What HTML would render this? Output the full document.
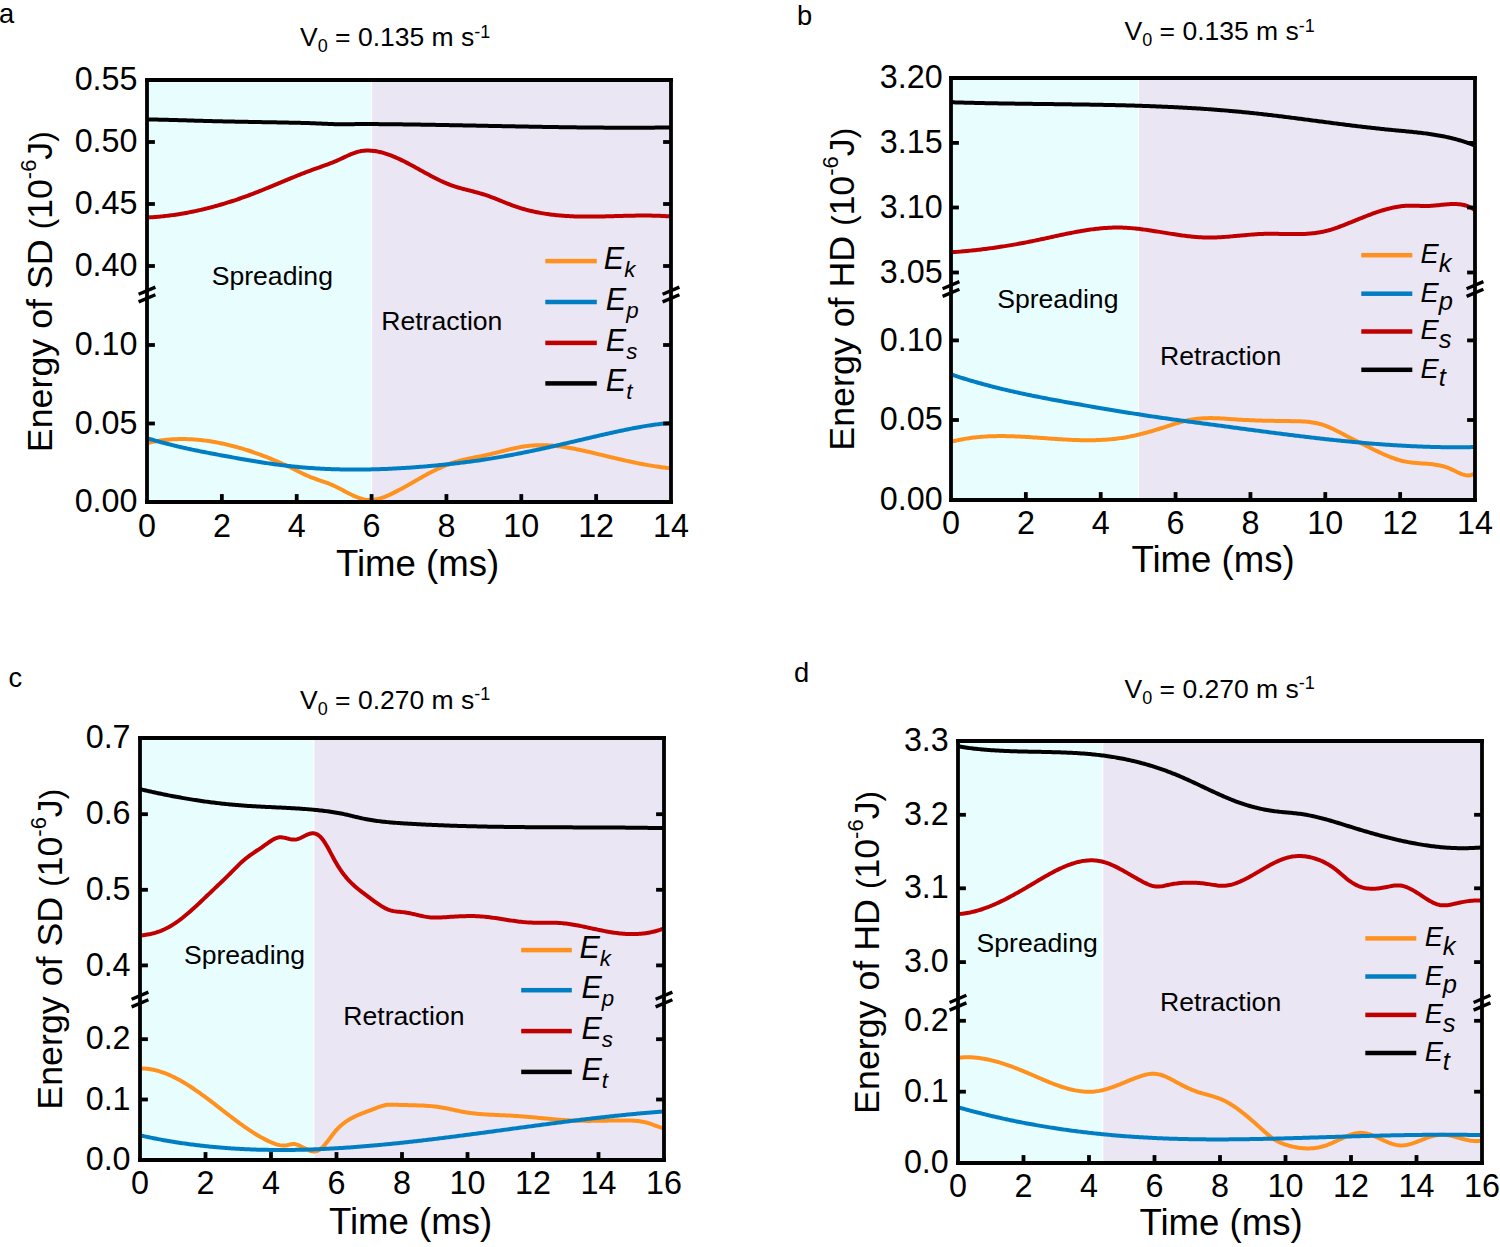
<!DOCTYPE html>
<html><head><meta charset="utf-8"><title>Energy plots</title>
<style>html,body{margin:0;padding:0;background:#fff;}svg{display:block;}</style>
</head><body>
<svg width="1500" height="1247" viewBox="0 0 1500 1247" font-family="'Liberation Sans', sans-serif">
<rect width="1500" height="1247" fill="#fff"/>
<rect x="147.00" y="80.00" width="224.60" height="422.00" fill="#E8FEFE"/>
<rect x="371.60" y="80.00" width="299.40" height="422.00" fill="#EAE6F4"/>
<rect x="371.10" y="80.00" width="1" height="422.00" fill="#fff"/>
<clipPath id="clipa"><rect x="147.00" y="78.00" width="524.00" height="424.00"/></clipPath>
<g clip-path="url(#clipa)" fill="none" stroke-width="4.0" stroke-linejoin="round" stroke-linecap="butt">
<path d="M147.00,443.12L148.50,442.77L150.00,442.43L151.50,442.11L153.00,441.81L154.50,441.53L156.00,441.26L157.50,441.01L159.00,440.77L160.50,440.55L162.00,440.35L163.50,440.16L165.00,439.98L166.50,439.83L168.00,439.68L169.50,439.55L171.00,439.44L172.50,439.34L174.00,439.26L175.50,439.19L177.00,439.14L178.50,439.09L180.00,439.07L181.50,439.06L183.00,439.06L184.50,439.07L186.00,439.10L187.50,439.14L189.00,439.20L190.50,439.27L192.00,439.35L193.50,439.44L195.00,439.55L196.50,439.67L198.00,439.80L199.50,439.94L201.00,440.10L202.50,440.27L204.00,440.45L205.50,440.64L207.00,440.85L208.50,441.06L210.00,441.29L211.50,441.53L213.00,441.77L214.50,442.03L216.00,442.30L217.50,442.59L219.00,442.88L220.50,443.18L222.00,443.49L223.50,443.82L225.00,444.15L226.50,444.49L228.00,444.84L229.50,445.21L231.00,445.58L232.50,445.96L234.00,446.35L235.50,446.75L237.00,447.16L238.50,447.58L240.00,448.00L241.50,448.44L243.00,448.89L244.50,449.34L246.00,449.81L247.50,450.28L249.00,450.77L250.50,451.26L252.00,451.76L253.50,452.27L255.00,452.79L256.50,453.31L258.00,453.85L259.50,454.39L261.00,454.95L262.50,455.51L264.00,456.08L265.50,456.66L267.00,457.24L268.50,457.84L270.00,458.44L271.50,459.06L273.00,459.68L274.50,460.31L276.00,460.94L277.50,461.59L279.00,462.24L280.50,462.90L282.00,463.57L283.50,464.25L285.00,464.94L286.50,465.63L288.00,466.33L289.50,467.04L291.00,467.75L292.50,468.48L294.00,469.21L295.50,469.95L297.00,470.70L298.50,471.45L300.00,472.20L301.50,472.94L303.00,473.68L304.50,474.40L306.00,475.10L307.50,475.77L309.00,476.42L310.50,477.04L312.00,477.62L313.50,478.18L315.00,478.73L316.50,479.25L318.00,479.77L319.50,480.28L321.00,480.79L322.50,481.30L324.00,481.82L325.50,482.35L327.00,482.90L328.50,483.48L330.00,484.07L331.50,484.69L333.00,485.34L334.50,486.02L336.00,486.74L337.50,487.48L339.00,488.24L340.50,489.03L342.00,489.82L343.50,490.63L345.00,491.43L346.50,492.23L348.00,493.02L349.50,493.79L351.00,494.53L352.50,495.25L354.00,495.94L355.50,496.58L357.00,497.19L358.50,497.74L360.00,498.25L361.50,498.70L363.00,499.09L364.50,499.41L366.00,499.67L367.50,499.86L369.00,499.96L370.50,499.99L372.00,499.94L373.50,499.80L375.00,499.60L376.50,499.33L378.00,499.00L379.50,498.60L381.00,498.16L382.50,497.66L384.00,497.12L385.50,496.53L387.00,495.91L388.50,495.26L390.00,494.58L391.50,493.87L393.00,493.15L394.50,492.41L396.00,491.65L397.50,490.87L399.00,490.08L400.50,489.28L402.00,488.47L403.50,487.64L405.00,486.81L406.50,485.97L408.00,485.12L409.50,484.27L411.00,483.41L412.50,482.55L414.00,481.69L415.50,480.83L417.00,479.97L418.50,479.12L420.00,478.26L421.50,477.42L423.00,476.57L424.50,475.74L426.00,474.92L427.50,474.10L429.00,473.30L430.50,472.51L432.00,471.73L433.50,470.97L435.00,470.22L436.50,469.49L438.00,468.77L439.50,468.07L441.00,467.39L442.50,466.73L444.00,466.09L445.50,465.47L447.00,464.87L448.50,464.29L450.00,463.74L451.50,463.21L453.00,462.70L454.50,462.22L456.00,461.77L457.50,461.34L459.00,460.92L460.50,460.53L462.00,460.15L463.50,459.79L465.00,459.45L466.50,459.11L468.00,458.79L469.50,458.47L471.00,458.17L472.50,457.86L474.00,457.57L475.50,457.27L477.00,456.98L478.50,456.68L480.00,456.39L481.50,456.09L483.00,455.78L484.50,455.46L486.00,455.14L487.50,454.81L489.00,454.46L490.50,454.11L492.00,453.75L493.50,453.39L495.00,453.02L496.50,452.65L498.00,452.27L499.50,451.89L501.00,451.52L502.50,451.14L504.00,450.76L505.50,450.39L507.00,450.02L508.50,449.66L510.00,449.30L511.50,448.96L513.00,448.61L514.50,448.28L516.00,447.96L517.50,447.66L519.00,447.36L520.50,447.08L522.00,446.82L523.50,446.57L525.00,446.34L526.50,446.13L528.00,445.94L529.50,445.77L531.00,445.62L532.50,445.49L534.00,445.39L535.50,445.30L537.00,445.24L538.50,445.19L540.00,445.17L541.50,445.16L543.00,445.17L544.50,445.20L546.00,445.25L547.50,445.31L549.00,445.39L550.50,445.49L552.00,445.60L553.50,445.73L555.00,445.87L556.50,446.02L558.00,446.19L559.50,446.37L561.00,446.57L562.50,446.78L564.00,447.00L565.50,447.23L567.00,447.47L568.50,447.72L570.00,447.98L571.50,448.25L573.00,448.53L574.50,448.82L576.00,449.11L577.50,449.42L579.00,449.73L580.50,450.05L582.00,450.37L583.50,450.70L585.00,451.03L586.50,451.37L588.00,451.72L589.50,452.07L591.00,452.42L592.50,452.77L594.00,453.13L595.50,453.48L597.00,453.84L598.50,454.21L600.00,454.57L601.50,454.93L603.00,455.29L604.50,455.65L606.00,456.01L607.50,456.37L609.00,456.73L610.50,457.09L612.00,457.45L613.50,457.81L615.00,458.16L616.50,458.51L618.00,458.86L619.50,459.21L621.00,459.56L622.50,459.90L624.00,460.24L625.50,460.58L627.00,460.91L628.50,461.25L630.00,461.57L631.50,461.90L633.00,462.21L634.50,462.53L636.00,462.84L637.50,463.15L639.00,463.45L640.50,463.74L642.00,464.03L643.50,464.32L645.00,464.60L646.50,464.87L648.00,465.13L649.50,465.40L651.00,465.65L652.50,465.90L654.00,466.14L655.50,466.37L657.00,466.59L658.50,466.81L660.00,467.02L661.50,467.22L663.00,467.42L664.50,467.60L666.00,467.78L667.50,467.94L669.00,468.10L670.50,468.25L671.00,468.30" stroke="#FF911E"/>
<path d="M147.00,438.14L148.50,438.60L150.00,439.06L151.50,439.51L153.00,439.95L154.50,440.39L156.00,440.82L157.50,441.24L159.00,441.66L160.50,442.08L162.00,442.48L163.50,442.88L165.00,443.28L166.50,443.67L168.00,444.05L169.50,444.43L171.00,444.81L172.50,445.18L174.00,445.54L175.50,445.90L177.00,446.26L178.50,446.61L180.00,446.96L181.50,447.30L183.00,447.64L184.50,447.97L186.00,448.30L187.50,448.63L189.00,448.95L190.50,449.27L192.00,449.59L193.50,449.90L195.00,450.22L196.50,450.52L198.00,450.83L199.50,451.13L201.00,451.43L202.50,451.73L204.00,452.02L205.50,452.32L207.00,452.61L208.50,452.90L210.00,453.18L211.50,453.47L213.00,453.75L214.50,454.04L216.00,454.32L217.50,454.60L219.00,454.88L220.50,455.16L222.00,455.43L223.50,455.71L225.00,455.99L226.50,456.26L228.00,456.54L229.50,456.81L231.00,457.09L232.50,457.36L234.00,457.63L235.50,457.90L237.00,458.17L238.50,458.44L240.00,458.70L241.50,458.97L243.00,459.23L244.50,459.49L246.00,459.75L247.50,460.01L249.00,460.26L250.50,460.52L252.00,460.77L253.50,461.02L255.00,461.26L256.50,461.51L258.00,461.75L259.50,461.99L261.00,462.23L262.50,462.46L264.00,462.69L265.50,462.92L267.00,463.14L268.50,463.36L270.00,463.58L271.50,463.80L273.00,464.01L274.50,464.22L276.00,464.42L277.50,464.62L279.00,464.82L280.50,465.01L282.00,465.20L283.50,465.39L285.00,465.57L286.50,465.75L288.00,465.92L289.50,466.09L291.00,466.25L292.50,466.41L294.00,466.57L295.50,466.72L297.00,466.86L298.50,467.01L300.00,467.15L301.50,467.28L303.00,467.41L304.50,467.54L306.00,467.66L307.50,467.78L309.00,467.89L310.50,468.00L312.00,468.11L313.50,468.21L315.00,468.31L316.50,468.40L318.00,468.49L319.50,468.58L321.00,468.66L322.50,468.74L324.00,468.82L325.50,468.89L327.00,468.95L328.50,469.02L330.00,469.08L331.50,469.14L333.00,469.19L334.50,469.24L336.00,469.28L337.50,469.33L339.00,469.36L340.50,469.40L342.00,469.43L343.50,469.46L345.00,469.48L346.50,469.51L348.00,469.52L349.50,469.54L351.00,469.55L352.50,469.56L354.00,469.56L355.50,469.56L357.00,469.56L358.50,469.56L360.00,469.55L361.50,469.54L363.00,469.52L364.50,469.50L366.00,469.48L367.50,469.46L369.00,469.43L370.50,469.40L372.00,469.37L373.50,469.33L375.00,469.29L376.50,469.25L378.00,469.21L379.50,469.16L381.00,469.11L382.50,469.06L384.00,469.00L385.50,468.94L387.00,468.88L388.50,468.81L390.00,468.75L391.50,468.68L393.00,468.60L394.50,468.53L396.00,468.45L397.50,468.37L399.00,468.29L400.50,468.20L402.00,468.11L403.50,468.02L405.00,467.93L406.50,467.83L408.00,467.74L409.50,467.64L411.00,467.53L412.50,467.43L414.00,467.32L415.50,467.21L417.00,467.10L418.50,466.98L420.00,466.86L421.50,466.74L423.00,466.62L424.50,466.49L426.00,466.37L427.50,466.24L429.00,466.10L430.50,465.97L432.00,465.83L433.50,465.69L435.00,465.55L436.50,465.41L438.00,465.26L439.50,465.11L441.00,464.96L442.50,464.81L444.00,464.65L445.50,464.50L447.00,464.34L448.50,464.17L450.00,464.01L451.50,463.84L453.00,463.67L454.50,463.50L456.00,463.33L457.50,463.15L459.00,462.98L460.50,462.80L462.00,462.61L463.50,462.43L465.00,462.24L466.50,462.05L468.00,461.86L469.50,461.67L471.00,461.47L472.50,461.27L474.00,461.07L475.50,460.86L477.00,460.66L478.50,460.44L480.00,460.23L481.50,460.01L483.00,459.79L484.50,459.57L486.00,459.34L487.50,459.11L489.00,458.87L490.50,458.63L492.00,458.39L493.50,458.15L495.00,457.90L496.50,457.65L498.00,457.40L499.50,457.14L501.00,456.88L502.50,456.61L504.00,456.35L505.50,456.08L507.00,455.81L508.50,455.53L510.00,455.25L511.50,454.97L513.00,454.69L514.50,454.40L516.00,454.12L517.50,453.83L519.00,453.53L520.50,453.24L522.00,452.94L523.50,452.64L525.00,452.33L526.50,452.03L528.00,451.72L529.50,451.41L531.00,451.10L532.50,450.79L534.00,450.47L535.50,450.15L537.00,449.83L538.50,449.51L540.00,449.19L541.50,448.86L543.00,448.54L544.50,448.21L546.00,447.88L547.50,447.55L549.00,447.21L550.50,446.88L552.00,446.54L553.50,446.20L555.00,445.86L556.50,445.52L558.00,445.18L559.50,444.84L561.00,444.49L562.50,444.15L564.00,443.80L565.50,443.45L567.00,443.11L568.50,442.76L570.00,442.41L571.50,442.06L573.00,441.70L574.50,441.35L576.00,441.00L577.50,440.65L579.00,440.30L580.50,439.94L582.00,439.59L583.50,439.24L585.00,438.89L586.50,438.53L588.00,438.18L589.50,437.83L591.00,437.48L592.50,437.13L594.00,436.78L595.50,436.43L597.00,436.09L598.50,435.74L600.00,435.40L601.50,435.05L603.00,434.71L604.50,434.37L606.00,434.03L607.50,433.69L609.00,433.36L610.50,433.03L612.00,432.69L613.50,432.36L615.00,432.04L616.50,431.71L618.00,431.39L619.50,431.07L621.00,430.75L622.50,430.44L624.00,430.12L625.50,429.81L627.00,429.51L628.50,429.20L630.00,428.90L631.50,428.61L633.00,428.31L634.50,428.02L636.00,427.74L637.50,427.46L639.00,427.18L640.50,426.91L642.00,426.64L643.50,426.38L645.00,426.13L646.50,425.88L648.00,425.64L649.50,425.41L651.00,425.18L652.50,424.97L654.00,424.76L655.50,424.56L657.00,424.37L658.50,424.19L660.00,424.01L661.50,423.85L663.00,423.70L664.50,423.56L666.00,423.43L667.50,423.31L669.00,423.20L670.50,423.11L671.00,423.08" stroke="#007DC3"/>
<path d="M147.00,217.52L148.50,217.44L150.00,217.35L151.50,217.26L153.00,217.16L154.50,217.05L156.00,216.93L157.50,216.80L159.00,216.67L160.50,216.53L162.00,216.38L163.50,216.22L165.00,216.06L166.50,215.88L168.00,215.70L169.50,215.52L171.00,215.32L172.50,215.12L174.00,214.90L175.50,214.69L177.00,214.46L178.50,214.22L180.00,213.98L181.50,213.73L183.00,213.48L184.50,213.21L186.00,212.94L187.50,212.66L189.00,212.38L190.50,212.08L192.00,211.78L193.50,211.48L195.00,211.16L196.50,210.84L198.00,210.51L199.50,210.17L201.00,209.83L202.50,209.48L204.00,209.12L205.50,208.75L207.00,208.38L208.50,208.00L210.00,207.62L211.50,207.23L213.00,206.83L214.50,206.42L216.00,206.01L217.50,205.59L219.00,205.16L220.50,204.73L222.00,204.29L223.50,203.84L225.00,203.38L226.50,202.92L228.00,202.46L229.50,201.98L231.00,201.50L232.50,201.02L234.00,200.53L235.50,200.03L237.00,199.52L238.50,199.01L240.00,198.49L241.50,197.96L243.00,197.43L244.50,196.90L246.00,196.35L247.50,195.80L249.00,195.25L250.50,194.68L252.00,194.12L253.50,193.54L255.00,192.96L256.50,192.38L258.00,191.79L259.50,191.19L261.00,190.59L262.50,189.99L264.00,189.38L265.50,188.77L267.00,188.16L268.50,187.54L270.00,186.93L271.50,186.31L273.00,185.68L274.50,185.06L276.00,184.44L277.50,183.81L279.00,183.19L280.50,182.56L282.00,181.94L283.50,181.31L285.00,180.69L286.50,180.06L288.00,179.44L289.50,178.82L291.00,178.20L292.50,177.59L294.00,176.98L295.50,176.37L297.00,175.76L298.50,175.16L300.00,174.56L301.50,173.97L303.00,173.38L304.50,172.79L306.00,172.22L307.50,171.64L309.00,171.07L310.50,170.51L312.00,169.96L313.50,169.41L315.00,168.87L316.50,168.33L318.00,167.80L319.50,167.27L321.00,166.74L322.50,166.20L324.00,165.67L325.50,165.12L327.00,164.57L328.50,164.01L330.00,163.45L331.50,162.87L333.00,162.27L334.50,161.66L336.00,161.04L337.50,160.39L339.00,159.73L340.50,159.04L342.00,158.34L343.50,157.63L345.00,156.92L346.50,156.22L348.00,155.52L349.50,154.85L351.00,154.21L352.50,153.60L354.00,153.04L355.50,152.52L357.00,152.06L358.50,151.67L360.00,151.34L361.50,151.07L363.00,150.86L364.50,150.71L366.00,150.61L367.50,150.57L369.00,150.58L370.50,150.63L372.00,150.74L373.50,150.89L375.00,151.09L376.50,151.33L378.00,151.61L379.50,151.93L381.00,152.28L382.50,152.67L384.00,153.10L385.50,153.55L387.00,154.04L388.50,154.56L390.00,155.10L391.50,155.68L393.00,156.28L394.50,156.90L396.00,157.55L397.50,158.21L399.00,158.90L400.50,159.61L402.00,160.34L403.50,161.08L405.00,161.83L406.50,162.60L408.00,163.39L409.50,164.18L411.00,164.98L412.50,165.79L414.00,166.61L415.50,167.43L417.00,168.26L418.50,169.09L420.00,169.92L421.50,170.75L423.00,171.58L424.50,172.41L426.00,173.23L427.50,174.05L429.00,174.86L430.50,175.67L432.00,176.46L433.50,177.25L435.00,178.02L436.50,178.77L438.00,179.52L439.50,180.24L441.00,180.95L442.50,181.64L444.00,182.31L445.50,182.96L447.00,183.59L448.50,184.19L450.00,184.77L451.50,185.32L453.00,185.84L454.50,186.34L456.00,186.82L457.50,187.29L459.00,187.73L460.50,188.16L462.00,188.58L463.50,188.99L465.00,189.38L466.50,189.77L468.00,190.16L469.50,190.55L471.00,190.93L472.50,191.31L474.00,191.70L475.50,192.10L477.00,192.50L478.50,192.91L480.00,193.33L481.50,193.77L483.00,194.22L484.50,194.69L486.00,195.18L487.50,195.69L489.00,196.22L490.50,196.77L492.00,197.33L493.50,197.91L495.00,198.49L496.50,199.09L498.00,199.69L499.50,200.30L501.00,200.91L502.50,201.52L504.00,202.12L505.50,202.73L507.00,203.33L508.50,203.91L510.00,204.49L511.50,205.06L513.00,205.61L514.50,206.14L516.00,206.66L517.50,207.16L519.00,207.64L520.50,208.11L522.00,208.57L523.50,209.00L525.00,209.42L526.50,209.83L528.00,210.22L529.50,210.60L531.00,210.96L532.50,211.31L534.00,211.65L535.50,211.97L537.00,212.28L538.50,212.57L540.00,212.85L541.50,213.12L543.00,213.38L544.50,213.63L546.00,213.86L547.50,214.08L549.00,214.29L550.50,214.49L552.00,214.68L553.50,214.86L555.00,215.03L556.50,215.19L558.00,215.33L559.50,215.47L561.00,215.60L562.50,215.72L564.00,215.83L565.50,215.93L567.00,216.03L568.50,216.11L570.00,216.19L571.50,216.26L573.00,216.33L574.50,216.38L576.00,216.43L577.50,216.47L579.00,216.51L580.50,216.54L582.00,216.56L583.50,216.58L585.00,216.59L586.50,216.60L588.00,216.61L589.50,216.60L591.00,216.60L592.50,216.59L594.00,216.57L595.50,216.56L597.00,216.54L598.50,216.51L600.00,216.48L601.50,216.45L603.00,216.42L604.50,216.39L606.00,216.35L607.50,216.31L609.00,216.27L610.50,216.23L612.00,216.19L613.50,216.15L615.00,216.11L616.50,216.06L618.00,216.02L619.50,215.98L621.00,215.94L622.50,215.90L624.00,215.86L625.50,215.82L627.00,215.78L628.50,215.74L630.00,215.71L631.50,215.68L633.00,215.65L634.50,215.63L636.00,215.60L637.50,215.58L639.00,215.57L640.50,215.56L642.00,215.55L643.50,215.54L645.00,215.55L646.50,215.55L648.00,215.56L649.50,215.58L651.00,215.60L652.50,215.63L654.00,215.66L655.50,215.70L657.00,215.74L658.50,215.80L660.00,215.86L661.50,215.92L663.00,216.00L664.50,216.08L666.00,216.17L667.50,216.27L669.00,216.37L670.50,216.49L671.00,216.53" stroke="#C00000"/>
<path d="M147.00,119.40L148.50,119.43L150.00,119.46L151.50,119.49L153.00,119.52L154.50,119.55L156.00,119.58L157.50,119.61L159.00,119.65L160.50,119.68L162.00,119.72L163.50,119.76L165.00,119.79L166.50,119.83L168.00,119.87L169.50,119.91L171.00,119.95L172.50,119.99L174.00,120.03L175.50,120.07L177.00,120.12L178.50,120.16L180.00,120.20L181.50,120.24L183.00,120.29L184.50,120.33L186.00,120.37L187.50,120.42L189.00,120.46L190.50,120.50L192.00,120.55L193.50,120.59L195.00,120.63L196.50,120.68L198.00,120.72L199.50,120.76L201.00,120.80L202.50,120.85L204.00,120.89L205.50,120.93L207.00,120.97L208.50,121.01L210.00,121.05L211.50,121.09L213.00,121.13L214.50,121.17L216.00,121.20L217.50,121.24L219.00,121.28L220.50,121.31L222.00,121.35L223.50,121.38L225.00,121.42L226.50,121.45L228.00,121.48L229.50,121.51L231.00,121.54L232.50,121.58L234.00,121.61L235.50,121.64L237.00,121.67L238.50,121.69L240.00,121.72L241.50,121.75L243.00,121.78L244.50,121.81L246.00,121.84L247.50,121.86L249.00,121.89L250.50,121.92L252.00,121.95L253.50,121.97L255.00,122.00L256.50,122.03L258.00,122.05L259.50,122.08L261.00,122.11L262.50,122.13L264.00,122.16L265.50,122.19L267.00,122.21L268.50,122.24L270.00,122.27L271.50,122.29L273.00,122.32L274.50,122.35L276.00,122.37L277.50,122.40L279.00,122.43L280.50,122.46L282.00,122.48L283.50,122.51L285.00,122.54L286.50,122.57L288.00,122.60L289.50,122.63L291.00,122.66L292.50,122.69L294.00,122.72L295.50,122.76L297.00,122.79L298.50,122.83L300.00,122.86L301.50,122.90L303.00,122.94L304.50,122.98L306.00,123.02L307.50,123.07L309.00,123.11L310.50,123.16L312.00,123.21L313.50,123.26L315.00,123.32L316.50,123.38L318.00,123.44L319.50,123.50L321.00,123.57L322.50,123.63L324.00,123.70L325.50,123.77L327.00,123.84L328.50,123.91L330.00,123.98L331.50,124.04L333.00,124.10L334.50,124.16L336.00,124.21L337.50,124.25L339.00,124.28L340.50,124.31L342.00,124.33L343.50,124.33L345.00,124.33L346.50,124.32L348.00,124.29L349.50,124.26L351.00,124.23L352.50,124.19L354.00,124.16L355.50,124.12L357.00,124.10L358.50,124.07L360.00,124.06L361.50,124.05L363.00,124.04L364.50,124.04L366.00,124.04L367.50,124.05L369.00,124.06L370.50,124.07L372.00,124.08L373.50,124.09L375.00,124.10L376.50,124.11L378.00,124.12L379.50,124.13L381.00,124.15L382.50,124.16L384.00,124.17L385.50,124.19L387.00,124.20L388.50,124.22L390.00,124.23L391.50,124.25L393.00,124.27L394.50,124.28L396.00,124.30L397.50,124.32L399.00,124.34L400.50,124.35L402.00,124.37L403.50,124.39L405.00,124.41L406.50,124.43L408.00,124.45L409.50,124.47L411.00,124.49L412.50,124.51L414.00,124.54L415.50,124.56L417.00,124.58L418.50,124.60L420.00,124.62L421.50,124.65L423.00,124.67L424.50,124.69L426.00,124.72L427.50,124.74L429.00,124.77L430.50,124.79L432.00,124.82L433.50,124.84L435.00,124.87L436.50,124.89L438.00,124.92L439.50,124.94L441.00,124.97L442.50,125.00L444.00,125.02L445.50,125.05L447.00,125.08L448.50,125.10L450.00,125.13L451.50,125.16L453.00,125.19L454.50,125.21L456.00,125.24L457.50,125.27L459.00,125.30L460.50,125.33L462.00,125.35L463.50,125.38L465.00,125.41L466.50,125.44L468.00,125.47L469.50,125.50L471.00,125.53L472.50,125.56L474.00,125.59L475.50,125.61L477.00,125.64L478.50,125.67L480.00,125.70L481.50,125.73L483.00,125.76L484.50,125.79L486.00,125.82L487.50,125.85L489.00,125.88L490.50,125.91L492.00,125.94L493.50,125.97L495.00,126.00L496.50,126.02L498.00,126.05L499.50,126.08L501.00,126.11L502.50,126.14L504.00,126.17L505.50,126.20L507.00,126.23L508.50,126.26L510.00,126.29L511.50,126.31L513.00,126.34L514.50,126.37L516.00,126.40L517.50,126.43L519.00,126.46L520.50,126.48L522.00,126.51L523.50,126.54L525.00,126.57L526.50,126.59L528.00,126.62L529.50,126.65L531.00,126.67L532.50,126.70L534.00,126.73L535.50,126.75L537.00,126.78L538.50,126.80L540.00,126.83L541.50,126.86L543.00,126.88L544.50,126.91L546.00,126.93L547.50,126.95L549.00,126.98L550.50,127.00L552.00,127.03L553.50,127.05L555.00,127.07L556.50,127.09L558.00,127.12L559.50,127.14L561.00,127.16L562.50,127.18L564.00,127.20L565.50,127.22L567.00,127.24L568.50,127.26L570.00,127.28L571.50,127.30L573.00,127.32L574.50,127.34L576.00,127.36L577.50,127.38L579.00,127.39L580.50,127.41L582.00,127.43L583.50,127.44L585.00,127.46L586.50,127.48L588.00,127.49L589.50,127.50L591.00,127.52L592.50,127.53L594.00,127.55L595.50,127.56L597.00,127.57L598.50,127.58L600.00,127.59L601.50,127.60L603.00,127.62L604.50,127.63L606.00,127.63L607.50,127.64L609.00,127.65L610.50,127.66L612.00,127.67L613.50,127.67L615.00,127.68L616.50,127.69L618.00,127.69L619.50,127.69L621.00,127.70L622.50,127.70L624.00,127.71L625.50,127.71L627.00,127.71L628.50,127.71L630.00,127.71L631.50,127.71L633.00,127.71L634.50,127.71L636.00,127.71L637.50,127.70L639.00,127.70L640.50,127.70L642.00,127.69L643.50,127.69L645.00,127.68L646.50,127.67L648.00,127.66L649.50,127.66L651.00,127.65L652.50,127.64L654.00,127.63L655.50,127.62L657.00,127.61L658.50,127.59L660.00,127.58L661.50,127.57L663.00,127.55L664.50,127.54L666.00,127.52L667.50,127.50L669.00,127.49L670.50,127.47L671.00,127.46" stroke="#000000"/>
</g>
<g stroke="#000" stroke-width="3.80" fill="none">
<line x1="221.86" y1="502.00" x2="221.86" y2="494.10"/>
<line x1="296.71" y1="502.00" x2="296.71" y2="494.10"/>
<line x1="371.57" y1="502.00" x2="371.57" y2="494.10"/>
<line x1="446.43" y1="502.00" x2="446.43" y2="494.10"/>
<line x1="521.29" y1="502.00" x2="521.29" y2="494.10"/>
<line x1="596.14" y1="502.00" x2="596.14" y2="494.10"/>
<line x1="147.00" y1="142.00" x2="154.90" y2="142.00"/>
<line x1="671.00" y1="142.00" x2="663.10" y2="142.00"/>
<line x1="147.00" y1="204.00" x2="154.90" y2="204.00"/>
<line x1="671.00" y1="204.00" x2="663.10" y2="204.00"/>
<line x1="147.00" y1="266.00" x2="154.90" y2="266.00"/>
<line x1="671.00" y1="266.00" x2="663.10" y2="266.00"/>
<line x1="147.00" y1="345.00" x2="154.90" y2="345.00"/>
<line x1="671.00" y1="345.00" x2="663.10" y2="345.00"/>
<line x1="147.00" y1="423.50" x2="154.90" y2="423.50"/>
<line x1="671.00" y1="423.50" x2="663.10" y2="423.50"/>
<line x1="145.10" y1="80.00" x2="672.90" y2="80.00"/>
<line x1="145.10" y1="502.00" x2="672.90" y2="502.00"/>
<line x1="147.00" y1="78.10" x2="147.00" y2="503.90"/>
<line x1="671.00" y1="78.10" x2="671.00" y2="503.90"/>
<line x1="138.60" y1="294.30" x2="155.40" y2="287.10" stroke-width="3.4"/>
<line x1="138.60" y1="301.90" x2="155.40" y2="294.70" stroke-width="3.4"/>
<line x1="662.60" y1="294.30" x2="679.40" y2="287.10" stroke-width="3.4"/>
<line x1="662.60" y1="301.90" x2="679.40" y2="294.70" stroke-width="3.4"/>
</g>
<rect x="545.30" y="258.85" width="51.50" height="4.50" fill="#FF911E"/>
<text x="603.80" y="269.10" font-size="30.50" font-style="italic">E<tspan font-size="22.30" dy="8.00">k</tspan></text>
<rect x="545.30" y="299.75" width="51.50" height="4.50" fill="#007DC3"/>
<text x="605.80" y="310.00" font-size="30.50" font-style="italic">E<tspan font-size="22.30" dy="8.00">p</tspan></text>
<rect x="545.30" y="340.65" width="51.50" height="4.50" fill="#C00000"/>
<text x="605.80" y="350.90" font-size="30.50" font-style="italic">E<tspan font-size="22.30" dy="8.00">s</tspan></text>
<rect x="545.30" y="381.15" width="51.50" height="4.50" fill="#000000"/>
<text x="605.80" y="391.40" font-size="30.50" font-style="italic">E<tspan font-size="22.30" dy="8.00">t</tspan></text>
<rect x="951.00" y="78.00" width="187.40" height="422.00" fill="#E8FEFE"/>
<rect x="1138.40" y="78.00" width="336.60" height="422.00" fill="#EAE6F4"/>
<rect x="1137.90" y="78.00" width="1" height="422.00" fill="#fff"/>
<clipPath id="clipb"><rect x="951.00" y="76.00" width="524.00" height="424.00"/></clipPath>
<g clip-path="url(#clipb)" fill="none" stroke-width="4.0" stroke-linejoin="round" stroke-linecap="butt">
<path d="M951.00,441.78L952.50,441.40L954.00,441.03L955.50,440.69L957.00,440.35L958.50,440.03L960.00,439.73L961.50,439.44L963.00,439.16L964.50,438.90L966.00,438.65L967.50,438.41L969.00,438.19L970.50,437.98L972.00,437.79L973.50,437.60L975.00,437.43L976.50,437.27L978.00,437.12L979.50,436.98L981.00,436.85L982.50,436.74L984.00,436.63L985.50,436.53L987.00,436.45L988.50,436.37L990.00,436.31L991.50,436.25L993.00,436.20L994.50,436.16L996.00,436.13L997.50,436.11L999.00,436.09L1000.50,436.09L1002.00,436.09L1003.50,436.10L1005.00,436.11L1006.50,436.13L1008.00,436.16L1009.50,436.19L1011.00,436.23L1012.50,436.28L1014.00,436.33L1015.50,436.39L1017.00,436.45L1018.50,436.52L1020.00,436.59L1021.50,436.66L1023.00,436.74L1024.50,436.82L1026.00,436.91L1027.50,437.00L1029.00,437.09L1030.50,437.18L1032.00,437.28L1033.50,437.38L1035.00,437.48L1036.50,437.58L1038.00,437.69L1039.50,437.79L1041.00,437.90L1042.50,438.00L1044.00,438.11L1045.50,438.22L1047.00,438.32L1048.50,438.43L1050.00,438.54L1051.50,438.64L1053.00,438.75L1054.50,438.85L1056.00,438.95L1057.50,439.05L1059.00,439.14L1060.50,439.24L1062.00,439.33L1063.50,439.42L1065.00,439.50L1066.50,439.59L1068.00,439.67L1069.50,439.74L1071.00,439.81L1072.50,439.88L1074.00,439.94L1075.50,439.99L1077.00,440.04L1078.50,440.09L1080.00,440.13L1081.50,440.16L1083.00,440.19L1084.50,440.21L1086.00,440.23L1087.50,440.23L1089.00,440.23L1090.50,440.23L1092.00,440.21L1093.50,440.19L1095.00,440.16L1096.50,440.12L1098.00,440.07L1099.50,440.01L1101.00,439.95L1102.50,439.87L1104.00,439.78L1105.50,439.69L1107.00,439.58L1108.50,439.47L1110.00,439.34L1111.50,439.20L1113.00,439.05L1114.50,438.89L1116.00,438.72L1117.50,438.53L1119.00,438.33L1120.50,438.12L1122.00,437.90L1123.50,437.66L1125.00,437.42L1126.50,437.16L1128.00,436.88L1129.50,436.60L1131.00,436.30L1132.50,436.00L1134.00,435.68L1135.50,435.35L1137.00,435.01L1138.50,434.66L1140.00,434.29L1141.50,433.92L1143.00,433.54L1144.50,433.15L1146.00,432.75L1147.50,432.34L1149.00,431.92L1150.50,431.49L1152.00,431.05L1153.50,430.61L1155.00,430.16L1156.50,429.69L1158.00,429.22L1159.50,428.75L1161.00,428.26L1162.50,427.78L1164.00,427.29L1165.50,426.80L1167.00,426.31L1168.50,425.82L1170.00,425.34L1171.50,424.86L1173.00,424.38L1174.50,423.92L1176.00,423.46L1177.50,423.01L1179.00,422.58L1180.50,422.15L1182.00,421.75L1183.50,421.36L1185.00,420.98L1186.50,420.63L1188.00,420.30L1189.50,419.98L1191.00,419.70L1192.50,419.43L1194.00,419.20L1195.50,418.99L1197.00,418.80L1198.50,418.64L1200.00,418.51L1201.50,418.39L1203.00,418.30L1204.50,418.22L1206.00,418.17L1207.50,418.13L1209.00,418.12L1210.50,418.11L1212.00,418.12L1213.50,418.15L1215.00,418.19L1216.50,418.24L1218.00,418.30L1219.50,418.37L1221.00,418.44L1222.50,418.53L1224.00,418.62L1225.50,418.72L1227.00,418.82L1228.50,418.92L1230.00,419.03L1231.50,419.13L1233.00,419.24L1234.50,419.34L1236.00,419.44L1237.50,419.54L1239.00,419.63L1240.50,419.72L1242.00,419.81L1243.50,419.89L1245.00,419.97L1246.50,420.04L1248.00,420.11L1249.50,420.18L1251.00,420.24L1252.50,420.30L1254.00,420.36L1255.50,420.41L1257.00,420.46L1258.50,420.51L1260.00,420.55L1261.50,420.60L1263.00,420.64L1264.50,420.68L1266.00,420.71L1267.50,420.75L1269.00,420.78L1270.50,420.81L1272.00,420.84L1273.50,420.87L1275.00,420.90L1276.50,420.92L1278.00,420.95L1279.50,420.97L1281.00,420.99L1282.50,421.01L1284.00,421.04L1285.50,421.06L1287.00,421.08L1288.50,421.10L1290.00,421.12L1291.50,421.14L1293.00,421.16L1294.50,421.18L1296.00,421.21L1297.50,421.25L1299.00,421.29L1300.50,421.34L1302.00,421.41L1303.50,421.49L1305.00,421.59L1306.50,421.71L1308.00,421.85L1309.50,422.01L1311.00,422.20L1312.50,422.41L1314.00,422.66L1315.50,422.93L1317.00,423.24L1318.50,423.59L1320.00,423.98L1321.50,424.40L1323.00,424.87L1324.50,425.39L1326.00,425.94L1327.50,426.53L1329.00,427.16L1330.50,427.83L1332.00,428.51L1333.50,429.23L1335.00,429.97L1336.50,430.72L1338.00,431.49L1339.50,432.27L1341.00,433.06L1342.50,433.85L1344.00,434.64L1345.50,435.43L1347.00,436.22L1348.50,436.99L1350.00,437.76L1351.50,438.53L1353.00,439.29L1354.50,440.05L1356.00,440.80L1357.50,441.55L1359.00,442.29L1360.50,443.03L1362.00,443.78L1363.50,444.52L1365.00,445.26L1366.50,446.00L1368.00,446.74L1369.50,447.48L1371.00,448.23L1372.50,448.97L1374.00,449.70L1375.50,450.43L1377.00,451.16L1378.50,451.87L1380.00,452.58L1381.50,453.27L1383.00,453.95L1384.50,454.62L1386.00,455.27L1387.50,455.91L1389.00,456.52L1390.50,457.12L1392.00,457.69L1393.50,458.24L1395.00,458.76L1396.50,459.26L1398.00,459.73L1399.50,460.16L1401.00,460.57L1402.50,460.95L1404.00,461.29L1405.50,461.59L1407.00,461.86L1408.50,462.10L1410.00,462.32L1411.50,462.50L1413.00,462.67L1414.50,462.82L1416.00,462.95L1417.50,463.07L1419.00,463.18L1420.50,463.29L1422.00,463.39L1423.50,463.49L1425.00,463.60L1426.50,463.71L1428.00,463.83L1429.50,463.96L1431.00,464.11L1432.50,464.28L1434.00,464.47L1435.50,464.68L1437.00,464.93L1438.50,465.20L1440.00,465.51L1441.50,465.85L1443.00,466.24L1444.50,466.67L1446.00,467.14L1447.50,467.67L1449.00,468.24L1450.50,468.88L1452.00,469.57L1453.50,470.29L1455.00,471.04L1456.50,471.78L1458.00,472.51L1459.50,473.19L1461.00,473.82L1462.50,474.37L1464.00,474.82L1465.50,475.16L1467.00,475.36L1468.50,475.40L1470.00,475.28L1471.50,474.95L1473.00,474.42L1474.50,473.65L1475.00,473.34" stroke="#FF911E"/>
<path d="M951.00,374.39L952.50,374.89L954.00,375.39L955.50,375.88L957.00,376.37L958.50,376.86L960.00,377.33L961.50,377.81L963.00,378.28L964.50,378.74L966.00,379.20L967.50,379.65L969.00,380.10L970.50,380.55L972.00,380.99L973.50,381.43L975.00,381.86L976.50,382.29L978.00,382.71L979.50,383.13L981.00,383.55L982.50,383.96L984.00,384.36L985.50,384.77L987.00,385.17L988.50,385.56L990.00,385.96L991.50,386.34L993.00,386.73L994.50,387.11L996.00,387.49L997.50,387.86L999.00,388.23L1000.50,388.60L1002.00,388.96L1003.50,389.32L1005.00,389.68L1006.50,390.03L1008.00,390.38L1009.50,390.73L1011.00,391.08L1012.50,391.42L1014.00,391.76L1015.50,392.09L1017.00,392.42L1018.50,392.75L1020.00,393.08L1021.50,393.41L1023.00,393.73L1024.50,394.05L1026.00,394.37L1027.50,394.68L1029.00,394.99L1030.50,395.30L1032.00,395.61L1033.50,395.92L1035.00,396.22L1036.50,396.52L1038.00,396.82L1039.50,397.12L1041.00,397.41L1042.50,397.70L1044.00,398.00L1045.50,398.29L1047.00,398.57L1048.50,398.86L1050.00,399.14L1051.50,399.43L1053.00,399.71L1054.50,399.99L1056.00,400.27L1057.50,400.54L1059.00,400.82L1060.50,401.09L1062.00,401.37L1063.50,401.64L1065.00,401.91L1066.50,402.18L1068.00,402.45L1069.50,402.72L1071.00,402.99L1072.50,403.25L1074.00,403.52L1075.50,403.78L1077.00,404.05L1078.50,404.31L1080.00,404.58L1081.50,404.84L1083.00,405.10L1084.50,405.36L1086.00,405.62L1087.50,405.88L1089.00,406.14L1090.50,406.40L1092.00,406.66L1093.50,406.92L1095.00,407.18L1096.50,407.44L1098.00,407.69L1099.50,407.95L1101.00,408.20L1102.50,408.46L1104.00,408.71L1105.50,408.97L1107.00,409.22L1108.50,409.47L1110.00,409.72L1111.50,409.97L1113.00,410.22L1114.50,410.47L1116.00,410.72L1117.50,410.96L1119.00,411.21L1120.50,411.45L1122.00,411.70L1123.50,411.94L1125.00,412.19L1126.50,412.43L1128.00,412.67L1129.50,412.91L1131.00,413.15L1132.50,413.38L1134.00,413.62L1135.50,413.86L1137.00,414.09L1138.50,414.33L1140.00,414.56L1141.50,414.79L1143.00,415.02L1144.50,415.25L1146.00,415.48L1147.50,415.71L1149.00,415.94L1150.50,416.16L1152.00,416.39L1153.50,416.61L1155.00,416.83L1156.50,417.05L1158.00,417.27L1159.50,417.49L1161.00,417.71L1162.50,417.93L1164.00,418.14L1165.50,418.35L1167.00,418.57L1168.50,418.78L1170.00,418.99L1171.50,419.20L1173.00,419.41L1174.50,419.62L1176.00,419.82L1177.50,420.03L1179.00,420.24L1180.50,420.44L1182.00,420.64L1183.50,420.85L1185.00,421.05L1186.50,421.25L1188.00,421.45L1189.50,421.66L1191.00,421.86L1192.50,422.06L1194.00,422.26L1195.50,422.46L1197.00,422.66L1198.50,422.85L1200.00,423.05L1201.50,423.25L1203.00,423.45L1204.50,423.65L1206.00,423.85L1207.50,424.05L1209.00,424.25L1210.50,424.45L1212.00,424.64L1213.50,424.84L1215.00,425.04L1216.50,425.24L1218.00,425.44L1219.50,425.64L1221.00,425.84L1222.50,426.04L1224.00,426.24L1225.50,426.44L1227.00,426.64L1228.50,426.85L1230.00,427.05L1231.50,427.25L1233.00,427.45L1234.50,427.65L1236.00,427.85L1237.50,428.05L1239.00,428.25L1240.50,428.45L1242.00,428.65L1243.50,428.85L1245.00,429.05L1246.50,429.25L1248.00,429.45L1249.50,429.65L1251.00,429.85L1252.50,430.05L1254.00,430.25L1255.50,430.45L1257.00,430.64L1258.50,430.84L1260.00,431.04L1261.50,431.24L1263.00,431.44L1264.50,431.63L1266.00,431.83L1267.50,432.02L1269.00,432.22L1270.50,432.41L1272.00,432.61L1273.50,432.80L1275.00,433.00L1276.50,433.19L1278.00,433.38L1279.50,433.57L1281.00,433.76L1282.50,433.96L1284.00,434.15L1285.50,434.34L1287.00,434.52L1288.50,434.71L1290.00,434.90L1291.50,435.09L1293.00,435.27L1294.50,435.46L1296.00,435.64L1297.50,435.83L1299.00,436.01L1300.50,436.19L1302.00,436.37L1303.50,436.55L1305.00,436.73L1306.50,436.91L1308.00,437.09L1309.50,437.27L1311.00,437.44L1312.50,437.62L1314.00,437.79L1315.50,437.97L1317.00,438.14L1318.50,438.31L1320.00,438.48L1321.50,438.65L1323.00,438.82L1324.50,438.98L1326.00,439.15L1327.50,439.31L1329.00,439.48L1330.50,439.64L1332.00,439.80L1333.50,439.96L1335.00,440.12L1336.50,440.28L1338.00,440.43L1339.50,440.59L1341.00,440.74L1342.50,440.89L1344.00,441.04L1345.50,441.19L1347.00,441.34L1348.50,441.49L1350.00,441.63L1351.50,441.78L1353.00,441.92L1354.50,442.06L1356.00,442.20L1357.50,442.34L1359.00,442.48L1360.50,442.61L1362.00,442.75L1363.50,442.88L1365.00,443.01L1366.50,443.14L1368.00,443.26L1369.50,443.39L1371.00,443.51L1372.50,443.64L1374.00,443.76L1375.50,443.87L1377.00,443.99L1378.50,444.11L1380.00,444.22L1381.50,444.33L1383.00,444.44L1384.50,444.55L1386.00,444.66L1387.50,444.76L1389.00,444.86L1390.50,444.97L1392.00,445.06L1393.50,445.16L1395.00,445.26L1396.50,445.35L1398.00,445.44L1399.50,445.53L1401.00,445.62L1402.50,445.70L1404.00,445.78L1405.50,445.87L1407.00,445.94L1408.50,446.02L1410.00,446.10L1411.50,446.17L1413.00,446.24L1414.50,446.31L1416.00,446.37L1417.50,446.44L1419.00,446.50L1420.50,446.56L1422.00,446.61L1423.50,446.67L1425.00,446.72L1426.50,446.77L1428.00,446.82L1429.50,446.86L1431.00,446.91L1432.50,446.95L1434.00,446.98L1435.50,447.02L1437.00,447.05L1438.50,447.08L1440.00,447.11L1441.50,447.14L1443.00,447.16L1444.50,447.18L1446.00,447.20L1447.50,447.22L1449.00,447.23L1450.50,447.24L1452.00,447.25L1453.50,447.25L1455.00,447.25L1456.50,447.25L1458.00,447.25L1459.50,447.25L1461.00,447.24L1462.50,447.23L1464.00,447.21L1465.50,447.20L1467.00,447.18L1468.50,447.15L1470.00,447.13L1471.50,447.10L1473.00,447.07L1474.50,447.04L1475.00,447.02" stroke="#007DC3"/>
<path d="M951.00,252.34L952.50,252.23L954.00,252.11L955.50,251.99L957.00,251.87L958.50,251.75L960.00,251.62L961.50,251.49L963.00,251.35L964.50,251.22L966.00,251.07L967.50,250.93L969.00,250.78L970.50,250.63L972.00,250.47L973.50,250.31L975.00,250.15L976.50,249.98L978.00,249.81L979.50,249.64L981.00,249.46L982.50,249.28L984.00,249.09L985.50,248.91L987.00,248.71L988.50,248.52L990.00,248.32L991.50,248.12L993.00,247.91L994.50,247.70L996.00,247.48L997.50,247.27L999.00,247.05L1000.50,246.82L1002.00,246.59L1003.50,246.36L1005.00,246.12L1006.50,245.88L1008.00,245.64L1009.50,245.39L1011.00,245.14L1012.50,244.88L1014.00,244.63L1015.50,244.36L1017.00,244.10L1018.50,243.83L1020.00,243.55L1021.50,243.27L1023.00,242.99L1024.50,242.70L1026.00,242.41L1027.50,242.12L1029.00,241.82L1030.50,241.52L1032.00,241.22L1033.50,240.91L1035.00,240.59L1036.50,240.28L1038.00,239.96L1039.50,239.64L1041.00,239.32L1042.50,238.99L1044.00,238.67L1045.50,238.34L1047.00,238.01L1048.50,237.69L1050.00,237.36L1051.50,237.03L1053.00,236.70L1054.50,236.37L1056.00,236.05L1057.50,235.72L1059.00,235.40L1060.50,235.08L1062.00,234.76L1063.50,234.45L1065.00,234.14L1066.50,233.83L1068.00,233.52L1069.50,233.22L1071.00,232.92L1072.50,232.63L1074.00,232.34L1075.50,232.06L1077.00,231.78L1078.50,231.51L1080.00,231.25L1081.50,230.99L1083.00,230.74L1084.50,230.49L1086.00,230.25L1087.50,230.03L1089.00,229.80L1090.50,229.59L1092.00,229.39L1093.50,229.19L1095.00,229.01L1096.50,228.83L1098.00,228.66L1099.50,228.51L1101.00,228.36L1102.50,228.23L1104.00,228.10L1105.50,227.99L1107.00,227.89L1108.50,227.80L1110.00,227.73L1111.50,227.67L1113.00,227.62L1114.50,227.58L1116.00,227.56L1117.50,227.55L1119.00,227.56L1120.50,227.58L1122.00,227.61L1123.50,227.66L1125.00,227.73L1126.50,227.81L1128.00,227.90L1129.50,228.00L1131.00,228.12L1132.50,228.25L1134.00,228.38L1135.50,228.53L1137.00,228.69L1138.50,228.86L1140.00,229.04L1141.50,229.22L1143.00,229.41L1144.50,229.61L1146.00,229.82L1147.50,230.03L1149.00,230.25L1150.50,230.48L1152.00,230.70L1153.50,230.94L1155.00,231.17L1156.50,231.41L1158.00,231.65L1159.50,231.90L1161.00,232.14L1162.50,232.39L1164.00,232.63L1165.50,232.88L1167.00,233.12L1168.50,233.37L1170.00,233.61L1171.50,233.85L1173.00,234.08L1174.50,234.32L1176.00,234.55L1177.50,234.77L1179.00,234.99L1180.50,235.21L1182.00,235.42L1183.50,235.62L1185.00,235.81L1186.50,236.00L1188.00,236.18L1189.50,236.35L1191.00,236.51L1192.50,236.67L1194.00,236.81L1195.50,236.94L1197.00,237.06L1198.50,237.17L1200.00,237.26L1201.50,237.34L1203.00,237.41L1204.50,237.47L1206.00,237.51L1207.50,237.53L1209.00,237.55L1210.50,237.54L1212.00,237.52L1213.50,237.49L1215.00,237.45L1216.50,237.40L1218.00,237.33L1219.50,237.26L1221.00,237.17L1222.50,237.08L1224.00,236.98L1225.50,236.87L1227.00,236.76L1228.50,236.64L1230.00,236.51L1231.50,236.38L1233.00,236.25L1234.50,236.11L1236.00,235.98L1237.50,235.84L1239.00,235.69L1240.50,235.55L1242.00,235.41L1243.50,235.27L1245.00,235.14L1246.50,235.00L1248.00,234.87L1249.50,234.75L1251.00,234.62L1252.50,234.51L1254.00,234.40L1255.50,234.29L1257.00,234.20L1258.50,234.11L1260.00,234.03L1261.50,233.97L1263.00,233.91L1264.50,233.86L1266.00,233.83L1267.50,233.80L1269.00,233.79L1270.50,233.79L1272.00,233.79L1273.50,233.80L1275.00,233.82L1276.50,233.84L1278.00,233.86L1279.50,233.89L1281.00,233.92L1282.50,233.95L1284.00,233.98L1285.50,234.01L1287.00,234.04L1288.50,234.07L1290.00,234.09L1291.50,234.11L1293.00,234.12L1294.50,234.12L1296.00,234.12L1297.50,234.11L1299.00,234.08L1300.50,234.05L1302.00,234.01L1303.50,233.95L1305.00,233.88L1306.50,233.80L1308.00,233.70L1309.50,233.59L1311.00,233.46L1312.50,233.31L1314.00,233.14L1315.50,232.95L1317.00,232.75L1318.50,232.52L1320.00,232.27L1321.50,231.99L1323.00,231.69L1324.50,231.37L1326.00,231.02L1327.50,230.64L1329.00,230.23L1330.50,229.80L1332.00,229.34L1333.50,228.86L1335.00,228.36L1336.50,227.84L1338.00,227.30L1339.50,226.75L1341.00,226.19L1342.50,225.61L1344.00,225.02L1345.50,224.43L1347.00,223.83L1348.50,223.23L1350.00,222.62L1351.50,222.02L1353.00,221.41L1354.50,220.80L1356.00,220.19L1357.50,219.58L1359.00,218.97L1360.50,218.37L1362.00,217.77L1363.50,217.17L1365.00,216.58L1366.50,216.00L1368.00,215.42L1369.50,214.85L1371.00,214.29L1372.50,213.74L1374.00,213.20L1375.50,212.68L1377.00,212.16L1378.50,211.66L1380.00,211.17L1381.50,210.69L1383.00,210.24L1384.50,209.79L1386.00,209.37L1387.50,208.96L1389.00,208.58L1390.50,208.21L1392.00,207.87L1393.50,207.54L1395.00,207.24L1396.50,206.96L1398.00,206.71L1399.50,206.48L1401.00,206.28L1402.50,206.10L1404.00,205.95L1405.50,205.83L1407.00,205.74L1408.50,205.68L1410.00,205.65L1411.50,205.64L1413.00,205.66L1414.50,205.69L1416.00,205.74L1417.50,205.79L1419.00,205.85L1420.50,205.91L1422.00,205.95L1423.50,205.99L1425.00,206.01L1426.50,206.01L1428.00,205.97L1429.50,205.92L1431.00,205.83L1432.50,205.73L1434.00,205.61L1435.50,205.47L1437.00,205.32L1438.50,205.17L1440.00,205.01L1441.50,204.85L1443.00,204.70L1444.50,204.55L1446.00,204.42L1447.50,204.29L1449.00,204.19L1450.50,204.11L1452.00,204.05L1453.50,204.02L1455.00,204.03L1456.50,204.07L1458.00,204.15L1459.50,204.28L1461.00,204.47L1462.50,204.73L1464.00,205.05L1465.50,205.46L1467.00,205.95L1468.50,206.53L1470.00,207.21L1471.50,208.00L1473.00,208.91L1474.50,209.93L1475.00,210.30" stroke="#C00000"/>
<path d="M951.00,102.24L952.50,102.29L954.00,102.34L955.50,102.38L957.00,102.43L958.50,102.47L960.00,102.51L961.50,102.56L963.00,102.60L964.50,102.64L966.00,102.68L967.50,102.72L969.00,102.76L970.50,102.79L972.00,102.83L973.50,102.87L975.00,102.90L976.50,102.94L978.00,102.97L979.50,103.00L981.00,103.04L982.50,103.07L984.00,103.10L985.50,103.13L987.00,103.16L988.50,103.19L990.00,103.22L991.50,103.25L993.00,103.28L994.50,103.30L996.00,103.33L997.50,103.36L999.00,103.38L1000.50,103.41L1002.00,103.43L1003.50,103.46L1005.00,103.48L1006.50,103.51L1008.00,103.53L1009.50,103.55L1011.00,103.57L1012.50,103.60L1014.00,103.62L1015.50,103.64L1017.00,103.66L1018.50,103.68L1020.00,103.70L1021.50,103.72L1023.00,103.74L1024.50,103.76L1026.00,103.78L1027.50,103.80L1029.00,103.82L1030.50,103.84L1032.00,103.86L1033.50,103.88L1035.00,103.90L1036.50,103.92L1038.00,103.94L1039.50,103.96L1041.00,103.97L1042.50,103.99L1044.00,104.01L1045.50,104.03L1047.00,104.05L1048.50,104.07L1050.00,104.09L1051.50,104.10L1053.00,104.12L1054.50,104.14L1056.00,104.16L1057.50,104.18L1059.00,104.20L1060.50,104.22L1062.00,104.24L1063.50,104.26L1065.00,104.28L1066.50,104.30L1068.00,104.32L1069.50,104.34L1071.00,104.36L1072.50,104.38L1074.00,104.40L1075.50,104.42L1077.00,104.44L1078.50,104.46L1080.00,104.48L1081.50,104.51L1083.00,104.53L1084.50,104.55L1086.00,104.58L1087.50,104.60L1089.00,104.62L1090.50,104.65L1092.00,104.67L1093.50,104.70L1095.00,104.73L1096.50,104.75L1098.00,104.78L1099.50,104.81L1101.00,104.84L1102.50,104.87L1104.00,104.89L1105.50,104.92L1107.00,104.96L1108.50,104.99L1110.00,105.02L1111.50,105.05L1113.00,105.08L1114.50,105.12L1116.00,105.15L1117.50,105.19L1119.00,105.22L1120.50,105.26L1122.00,105.30L1123.50,105.33L1125.00,105.37L1126.50,105.41L1128.00,105.45L1129.50,105.49L1131.00,105.54L1132.50,105.58L1134.00,105.62L1135.50,105.67L1137.00,105.71L1138.50,105.76L1140.00,105.81L1141.50,105.85L1143.00,105.90L1144.50,105.95L1146.00,106.01L1147.50,106.06L1149.00,106.11L1150.50,106.16L1152.00,106.22L1153.50,106.28L1155.00,106.33L1156.50,106.39L1158.00,106.45L1159.50,106.51L1161.00,106.57L1162.50,106.64L1164.00,106.70L1165.50,106.77L1167.00,106.83L1168.50,106.90L1170.00,106.97L1171.50,107.04L1173.00,107.11L1174.50,107.18L1176.00,107.26L1177.50,107.33L1179.00,107.41L1180.50,107.49L1182.00,107.57L1183.50,107.65L1185.00,107.73L1186.50,107.81L1188.00,107.90L1189.50,107.98L1191.00,108.07L1192.50,108.16L1194.00,108.25L1195.50,108.34L1197.00,108.43L1198.50,108.53L1200.00,108.62L1201.50,108.72L1203.00,108.82L1204.50,108.92L1206.00,109.02L1207.50,109.13L1209.00,109.23L1210.50,109.34L1212.00,109.45L1213.50,109.56L1215.00,109.67L1216.50,109.79L1218.00,109.90L1219.50,110.02L1221.00,110.14L1222.50,110.26L1224.00,110.38L1225.50,110.51L1227.00,110.63L1228.50,110.76L1230.00,110.89L1231.50,111.02L1233.00,111.16L1234.50,111.29L1236.00,111.43L1237.50,111.57L1239.00,111.71L1240.50,111.85L1242.00,111.99L1243.50,112.14L1245.00,112.29L1246.50,112.44L1248.00,112.59L1249.50,112.75L1251.00,112.90L1252.50,113.06L1254.00,113.22L1255.50,113.38L1257.00,113.55L1258.50,113.71L1260.00,113.88L1261.50,114.05L1263.00,114.22L1264.50,114.39L1266.00,114.56L1267.50,114.74L1269.00,114.91L1270.50,115.09L1272.00,115.27L1273.50,115.45L1275.00,115.63L1276.50,115.81L1278.00,115.99L1279.50,116.18L1281.00,116.36L1282.50,116.55L1284.00,116.74L1285.50,116.92L1287.00,117.11L1288.50,117.30L1290.00,117.49L1291.50,117.68L1293.00,117.88L1294.50,118.07L1296.00,118.26L1297.50,118.46L1299.00,118.65L1300.50,118.85L1302.00,119.04L1303.50,119.24L1305.00,119.43L1306.50,119.63L1308.00,119.83L1309.50,120.02L1311.00,120.22L1312.50,120.42L1314.00,120.62L1315.50,120.81L1317.00,121.01L1318.50,121.21L1320.00,121.40L1321.50,121.60L1323.00,121.80L1324.50,122.00L1326.00,122.19L1327.50,122.39L1329.00,122.59L1330.50,122.78L1332.00,122.98L1333.50,123.17L1335.00,123.37L1336.50,123.56L1338.00,123.75L1339.50,123.95L1341.00,124.14L1342.50,124.33L1344.00,124.52L1345.50,124.71L1347.00,124.90L1348.50,125.09L1350.00,125.27L1351.50,125.46L1353.00,125.65L1354.50,125.83L1356.00,126.01L1357.50,126.20L1359.00,126.38L1360.50,126.56L1362.00,126.74L1363.50,126.91L1365.00,127.09L1366.50,127.26L1368.00,127.44L1369.50,127.61L1371.00,127.78L1372.50,127.95L1374.00,128.11L1375.50,128.28L1377.00,128.44L1378.50,128.61L1380.00,128.77L1381.50,128.92L1383.00,129.08L1384.50,129.24L1386.00,129.39L1387.50,129.54L1389.00,129.69L1390.50,129.83L1392.00,129.98L1393.50,130.12L1395.00,130.26L1396.50,130.41L1398.00,130.55L1399.50,130.69L1401.00,130.83L1402.50,130.97L1404.00,131.11L1405.50,131.25L1407.00,131.40L1408.50,131.55L1410.00,131.69L1411.50,131.85L1413.00,132.00L1414.50,132.16L1416.00,132.32L1417.50,132.49L1419.00,132.66L1420.50,132.83L1422.00,133.01L1423.50,133.20L1425.00,133.39L1426.50,133.59L1428.00,133.79L1429.50,134.01L1431.00,134.22L1432.50,134.45L1434.00,134.69L1435.50,134.93L1437.00,135.18L1438.50,135.44L1440.00,135.71L1441.50,135.99L1443.00,136.28L1444.50,136.58L1446.00,136.89L1447.50,137.22L1449.00,137.55L1450.50,137.90L1452.00,138.26L1453.50,138.63L1455.00,139.01L1456.50,139.41L1458.00,139.82L1459.50,140.25L1461.00,140.69L1462.50,141.14L1464.00,141.61L1465.50,142.09L1467.00,142.60L1468.50,143.11L1470.00,143.65L1471.50,144.20L1473.00,144.77L1474.50,145.35L1475.00,145.55" stroke="#000000"/>
</g>
<g stroke="#000" stroke-width="3.80" fill="none">
<line x1="1025.86" y1="500.00" x2="1025.86" y2="492.10"/>
<line x1="1100.71" y1="500.00" x2="1100.71" y2="492.10"/>
<line x1="1175.57" y1="500.00" x2="1175.57" y2="492.10"/>
<line x1="1250.43" y1="500.00" x2="1250.43" y2="492.10"/>
<line x1="1325.29" y1="500.00" x2="1325.29" y2="492.10"/>
<line x1="1400.14" y1="500.00" x2="1400.14" y2="492.10"/>
<line x1="951.00" y1="142.90" x2="958.90" y2="142.90"/>
<line x1="1475.00" y1="142.90" x2="1467.10" y2="142.90"/>
<line x1="951.00" y1="207.50" x2="958.90" y2="207.50"/>
<line x1="1475.00" y1="207.50" x2="1467.10" y2="207.50"/>
<line x1="951.00" y1="272.50" x2="958.90" y2="272.50"/>
<line x1="1475.00" y1="272.50" x2="1467.10" y2="272.50"/>
<line x1="951.00" y1="340.40" x2="958.90" y2="340.40"/>
<line x1="1475.00" y1="340.40" x2="1467.10" y2="340.40"/>
<line x1="951.00" y1="420.00" x2="958.90" y2="420.00"/>
<line x1="1475.00" y1="420.00" x2="1467.10" y2="420.00"/>
<line x1="949.10" y1="78.00" x2="1476.90" y2="78.00"/>
<line x1="949.10" y1="500.00" x2="1476.90" y2="500.00"/>
<line x1="951.00" y1="76.10" x2="951.00" y2="501.90"/>
<line x1="1475.00" y1="76.10" x2="1475.00" y2="501.90"/>
<line x1="942.60" y1="288.80" x2="959.40" y2="281.60" stroke-width="3.4"/>
<line x1="942.60" y1="296.40" x2="959.40" y2="289.20" stroke-width="3.4"/>
<line x1="1466.60" y1="288.80" x2="1483.40" y2="281.60" stroke-width="3.4"/>
<line x1="1466.60" y1="296.40" x2="1483.40" y2="289.20" stroke-width="3.4"/>
</g>
<rect x="1361.30" y="252.95" width="51.00" height="4.50" fill="#FF911E"/>
<text x="1420.50" y="263.00" font-size="27.20" font-style="italic">E<tspan font-size="25.50" dy="8.70">k</tspan></text>
<rect x="1361.30" y="291.45" width="51.00" height="4.50" fill="#007DC3"/>
<text x="1420.50" y="301.50" font-size="27.20" font-style="italic">E<tspan font-size="25.50" dy="8.70">p</tspan></text>
<rect x="1361.30" y="329.25" width="51.00" height="4.50" fill="#C00000"/>
<text x="1420.50" y="339.30" font-size="27.20" font-style="italic">E<tspan font-size="25.50" dy="8.70">s</tspan></text>
<rect x="1361.30" y="367.55" width="51.00" height="4.50" fill="#000000"/>
<text x="1420.50" y="377.60" font-size="27.20" font-style="italic">E<tspan font-size="25.50" dy="8.70">t</tspan></text>
<rect x="140.00" y="738.00" width="173.90" height="422.00" fill="#E8FEFE"/>
<rect x="313.90" y="738.00" width="350.10" height="422.00" fill="#EAE6F4"/>
<rect x="313.40" y="738.00" width="1" height="422.00" fill="#fff"/>
<clipPath id="clipc"><rect x="140.00" y="736.00" width="524.00" height="424.00"/></clipPath>
<g clip-path="url(#clipc)" fill="none" stroke-width="4.0" stroke-linejoin="round" stroke-linecap="butt">
<path d="M140.00,1068.49L141.50,1068.47L143.00,1068.50L144.50,1068.57L146.00,1068.67L147.50,1068.82L149.00,1069.01L150.50,1069.23L152.00,1069.49L153.50,1069.79L155.00,1070.13L156.50,1070.50L158.00,1070.90L159.50,1071.34L161.00,1071.81L162.50,1072.32L164.00,1072.85L165.50,1073.42L167.00,1074.01L168.50,1074.64L170.00,1075.29L171.50,1075.98L173.00,1076.69L174.50,1077.42L176.00,1078.18L177.50,1078.97L179.00,1079.78L180.50,1080.61L182.00,1081.46L183.50,1082.34L185.00,1083.24L186.50,1084.15L188.00,1085.09L189.50,1086.05L191.00,1087.02L192.50,1088.01L194.00,1089.02L195.50,1090.04L197.00,1091.08L198.50,1092.13L200.00,1093.19L201.50,1094.27L203.00,1095.36L204.50,1096.46L206.00,1097.57L207.50,1098.69L209.00,1099.81L210.50,1100.95L212.00,1102.09L213.50,1103.24L215.00,1104.40L216.50,1105.56L218.00,1106.72L219.50,1107.88L221.00,1109.05L222.50,1110.22L224.00,1111.38L225.50,1112.55L227.00,1113.71L228.50,1114.87L230.00,1116.02L231.50,1117.17L233.00,1118.31L234.50,1119.45L236.00,1120.58L237.50,1121.69L239.00,1122.80L240.50,1123.90L242.00,1124.98L243.50,1126.05L245.00,1127.11L246.50,1128.15L248.00,1129.18L249.50,1130.19L251.00,1131.18L252.50,1132.15L254.00,1133.10L255.50,1134.03L257.00,1134.94L258.50,1135.83L260.00,1136.69L261.50,1137.53L263.00,1138.35L264.50,1139.13L266.00,1139.89L267.50,1140.62L269.00,1141.32L270.50,1141.99L272.00,1142.63L273.50,1143.24L275.00,1143.80L276.50,1144.31L278.00,1144.75L279.50,1145.11L281.00,1145.37L282.50,1145.53L284.00,1145.56L285.50,1145.46L287.00,1145.21L288.50,1144.87L290.00,1144.50L291.50,1144.19L293.00,1144.03L294.50,1144.08L296.00,1144.37L297.50,1144.83L299.00,1145.44L300.50,1146.16L302.00,1146.95L303.50,1147.78L305.00,1148.59L306.50,1149.36L308.00,1150.05L309.50,1150.63L311.00,1151.08L312.50,1151.37L314.00,1151.47L315.50,1151.36L317.00,1151.01L318.50,1150.39L320.00,1149.49L321.50,1148.28L323.00,1146.82L324.50,1145.16L326.00,1143.34L327.50,1141.42L329.00,1139.44L330.50,1137.44L332.00,1135.44L333.50,1133.50L335.00,1131.63L336.50,1129.89L338.00,1128.28L339.50,1126.80L341.00,1125.44L342.50,1124.18L344.00,1123.01L345.50,1121.92L347.00,1120.90L348.50,1119.94L350.00,1119.05L351.50,1118.20L353.00,1117.41L354.50,1116.66L356.00,1115.96L357.50,1115.28L359.00,1114.64L360.50,1114.03L362.00,1113.44L363.50,1112.86L365.00,1112.29L366.50,1111.73L368.00,1111.18L369.50,1110.62L371.00,1110.05L372.50,1109.47L374.00,1108.88L375.50,1108.29L377.00,1107.70L378.50,1107.14L380.00,1106.61L381.50,1106.12L383.00,1105.69L384.50,1105.33L386.00,1105.05L387.50,1104.85L389.00,1104.73L390.50,1104.68L392.00,1104.67L393.50,1104.69L395.00,1104.73L396.50,1104.78L398.00,1104.83L399.50,1104.88L401.00,1104.93L402.50,1104.98L404.00,1105.02L405.50,1105.07L407.00,1105.11L408.50,1105.14L410.00,1105.18L411.50,1105.22L413.00,1105.25L414.50,1105.29L416.00,1105.33L417.50,1105.38L419.00,1105.43L420.50,1105.49L422.00,1105.55L423.50,1105.62L425.00,1105.70L426.50,1105.79L428.00,1105.89L429.50,1106.00L431.00,1106.13L432.50,1106.27L434.00,1106.42L435.50,1106.59L437.00,1106.77L438.50,1106.98L440.00,1107.20L441.50,1107.44L443.00,1107.70L444.50,1107.98L446.00,1108.27L447.50,1108.57L449.00,1108.88L450.50,1109.20L452.00,1109.53L453.50,1109.85L455.00,1110.18L456.50,1110.50L458.00,1110.81L459.50,1111.12L461.00,1111.42L462.50,1111.71L464.00,1111.98L465.50,1112.24L467.00,1112.48L468.50,1112.70L470.00,1112.91L471.50,1113.11L473.00,1113.29L474.50,1113.46L476.00,1113.62L477.50,1113.77L479.00,1113.91L480.50,1114.03L482.00,1114.15L483.50,1114.26L485.00,1114.37L486.50,1114.46L488.00,1114.55L489.50,1114.64L491.00,1114.72L492.50,1114.79L494.00,1114.87L495.50,1114.93L497.00,1115.00L498.50,1115.07L500.00,1115.13L501.50,1115.20L503.00,1115.26L504.50,1115.33L506.00,1115.39L507.50,1115.46L509.00,1115.54L510.50,1115.62L512.00,1115.70L513.50,1115.79L515.00,1115.88L516.50,1115.98L518.00,1116.08L519.50,1116.19L521.00,1116.30L522.50,1116.42L524.00,1116.54L525.50,1116.66L527.00,1116.79L528.50,1116.92L530.00,1117.06L531.50,1117.19L533.00,1117.33L534.50,1117.47L536.00,1117.61L537.50,1117.75L539.00,1117.89L540.50,1118.03L542.00,1118.17L543.50,1118.32L545.00,1118.46L546.50,1118.60L548.00,1118.74L549.50,1118.87L551.00,1119.01L552.50,1119.14L554.00,1119.27L555.50,1119.40L557.00,1119.53L558.50,1119.65L560.00,1119.76L561.50,1119.88L563.00,1119.99L564.50,1120.09L566.00,1120.19L567.50,1120.28L569.00,1120.37L570.50,1120.45L572.00,1120.52L573.50,1120.59L575.00,1120.65L576.50,1120.71L578.00,1120.75L579.50,1120.79L581.00,1120.82L582.50,1120.85L584.00,1120.86L585.50,1120.87L587.00,1120.88L588.50,1120.88L590.00,1120.88L591.50,1120.87L593.00,1120.86L594.50,1120.84L596.00,1120.82L597.50,1120.80L599.00,1120.77L600.50,1120.75L602.00,1120.72L603.50,1120.69L605.00,1120.66L606.50,1120.63L608.00,1120.60L609.50,1120.57L611.00,1120.55L612.50,1120.52L614.00,1120.50L615.50,1120.47L617.00,1120.45L618.50,1120.44L620.00,1120.42L621.50,1120.41L623.00,1120.41L624.50,1120.41L626.00,1120.41L627.50,1120.43L629.00,1120.46L630.50,1120.51L632.00,1120.57L633.50,1120.65L635.00,1120.76L636.50,1120.89L638.00,1121.06L639.50,1121.25L641.00,1121.47L642.50,1121.73L644.00,1122.03L645.50,1122.37L647.00,1122.76L648.50,1123.19L650.00,1123.66L651.50,1124.19L653.00,1124.75L654.50,1125.32L656.00,1125.89L657.50,1126.43L659.00,1126.94L660.50,1127.39L662.00,1127.76L663.50,1128.04L664.00,1128.11" stroke="#FF911E"/>
<path d="M140.00,1135.33L141.50,1135.67L143.00,1136.00L144.50,1136.33L146.00,1136.65L147.50,1136.97L149.00,1137.29L150.50,1137.60L152.00,1137.91L153.50,1138.21L155.00,1138.51L156.50,1138.80L158.00,1139.09L159.50,1139.37L161.00,1139.65L162.50,1139.93L164.00,1140.20L165.50,1140.47L167.00,1140.73L168.50,1140.99L170.00,1141.25L171.50,1141.50L173.00,1141.75L174.50,1141.99L176.00,1142.23L177.50,1142.46L179.00,1142.70L180.50,1142.92L182.00,1143.15L183.50,1143.36L185.00,1143.58L186.50,1143.79L188.00,1144.00L189.50,1144.20L191.00,1144.40L192.50,1144.60L194.00,1144.79L195.50,1144.98L197.00,1145.16L198.50,1145.34L200.00,1145.52L201.50,1145.69L203.00,1145.86L204.50,1146.02L206.00,1146.19L207.50,1146.34L209.00,1146.50L210.50,1146.65L212.00,1146.80L213.50,1146.94L215.00,1147.08L216.50,1147.22L218.00,1147.35L219.50,1147.48L221.00,1147.61L222.50,1147.73L224.00,1147.85L225.50,1147.96L227.00,1148.07L228.50,1148.18L230.00,1148.29L231.50,1148.39L233.00,1148.49L234.50,1148.58L236.00,1148.68L237.50,1148.77L239.00,1148.85L240.50,1148.93L242.00,1149.01L243.50,1149.09L245.00,1149.16L246.50,1149.23L248.00,1149.29L249.50,1149.36L251.00,1149.42L252.50,1149.47L254.00,1149.53L255.50,1149.58L257.00,1149.63L258.50,1149.67L260.00,1149.71L261.50,1149.75L263.00,1149.79L264.50,1149.82L266.00,1149.85L267.50,1149.87L269.00,1149.90L270.50,1149.92L272.00,1149.94L273.50,1149.95L275.00,1149.97L276.50,1149.97L278.00,1149.98L279.50,1149.99L281.00,1149.99L282.50,1149.99L284.00,1149.98L285.50,1149.97L287.00,1149.96L288.50,1149.95L290.00,1149.94L291.50,1149.92L293.00,1149.90L294.50,1149.88L296.00,1149.85L297.50,1149.82L299.00,1149.79L300.50,1149.76L302.00,1149.73L303.50,1149.69L305.00,1149.65L306.50,1149.60L308.00,1149.56L309.50,1149.51L311.00,1149.46L312.50,1149.41L314.00,1149.35L315.50,1149.30L317.00,1149.24L318.50,1149.18L320.00,1149.11L321.50,1149.05L323.00,1148.98L324.50,1148.91L326.00,1148.84L327.50,1148.76L329.00,1148.68L330.50,1148.60L332.00,1148.52L333.50,1148.44L335.00,1148.35L336.50,1148.27L338.00,1148.18L339.50,1148.09L341.00,1147.99L342.50,1147.90L344.00,1147.80L345.50,1147.70L347.00,1147.60L348.50,1147.50L350.00,1147.39L351.50,1147.28L353.00,1147.17L354.50,1147.06L356.00,1146.95L357.50,1146.84L359.00,1146.72L360.50,1146.60L362.00,1146.48L363.50,1146.36L365.00,1146.24L366.50,1146.11L368.00,1145.99L369.50,1145.86L371.00,1145.73L372.50,1145.60L374.00,1145.46L375.50,1145.33L377.00,1145.19L378.50,1145.06L380.00,1144.92L381.50,1144.78L383.00,1144.63L384.50,1144.49L386.00,1144.35L387.50,1144.20L389.00,1144.05L390.50,1143.90L392.00,1143.75L393.50,1143.60L395.00,1143.45L396.50,1143.29L398.00,1143.14L399.50,1142.98L401.00,1142.82L402.50,1142.66L404.00,1142.50L405.50,1142.34L407.00,1142.17L408.50,1142.01L410.00,1141.84L411.50,1141.68L413.00,1141.51L414.50,1141.34L416.00,1141.17L417.50,1141.00L419.00,1140.82L420.50,1140.65L422.00,1140.48L423.50,1140.30L425.00,1140.12L426.50,1139.95L428.00,1139.77L429.50,1139.59L431.00,1139.41L432.50,1139.23L434.00,1139.05L435.50,1138.86L437.00,1138.68L438.50,1138.49L440.00,1138.31L441.50,1138.12L443.00,1137.94L444.50,1137.75L446.00,1137.56L447.50,1137.37L449.00,1137.18L450.50,1136.99L452.00,1136.80L453.50,1136.61L455.00,1136.41L456.50,1136.22L458.00,1136.03L459.50,1135.83L461.00,1135.64L462.50,1135.44L464.00,1135.25L465.50,1135.05L467.00,1134.85L468.50,1134.66L470.00,1134.46L471.50,1134.26L473.00,1134.06L474.50,1133.86L476.00,1133.66L477.50,1133.46L479.00,1133.26L480.50,1133.06L482.00,1132.86L483.50,1132.66L485.00,1132.46L486.50,1132.25L488.00,1132.05L489.50,1131.85L491.00,1131.65L492.50,1131.45L494.00,1131.24L495.50,1131.04L497.00,1130.84L498.50,1130.63L500.00,1130.43L501.50,1130.23L503.00,1130.02L504.50,1129.82L506.00,1129.61L507.50,1129.41L509.00,1129.21L510.50,1129.00L512.00,1128.80L513.50,1128.60L515.00,1128.39L516.50,1128.19L518.00,1127.99L519.50,1127.78L521.00,1127.58L522.50,1127.38L524.00,1127.17L525.50,1126.97L527.00,1126.77L528.50,1126.57L530.00,1126.36L531.50,1126.16L533.00,1125.96L534.50,1125.76L536.00,1125.56L537.50,1125.36L539.00,1125.16L540.50,1124.96L542.00,1124.76L543.50,1124.56L545.00,1124.36L546.50,1124.17L548.00,1123.97L549.50,1123.77L551.00,1123.57L552.50,1123.38L554.00,1123.18L555.50,1122.99L557.00,1122.79L558.50,1122.60L560.00,1122.41L561.50,1122.21L563.00,1122.02L564.50,1121.83L566.00,1121.64L567.50,1121.45L569.00,1121.26L570.50,1121.07L572.00,1120.88L573.50,1120.70L575.00,1120.51L576.50,1120.32L578.00,1120.14L579.50,1119.96L581.00,1119.77L582.50,1119.59L584.00,1119.41L585.50,1119.23L587.00,1119.05L588.50,1118.87L590.00,1118.69L591.50,1118.52L593.00,1118.34L594.50,1118.17L596.00,1117.99L597.50,1117.82L599.00,1117.65L600.50,1117.48L602.00,1117.31L603.50,1117.14L605.00,1116.97L606.50,1116.81L608.00,1116.64L609.50,1116.48L611.00,1116.31L612.50,1116.15L614.00,1115.99L615.50,1115.83L617.00,1115.68L618.50,1115.52L620.00,1115.37L621.50,1115.21L623.00,1115.06L624.50,1114.91L626.00,1114.76L627.50,1114.61L629.00,1114.46L630.50,1114.32L632.00,1114.18L633.50,1114.03L635.00,1113.89L636.50,1113.75L638.00,1113.61L639.50,1113.48L641.00,1113.34L642.50,1113.21L644.00,1113.08L645.50,1112.95L647.00,1112.82L648.50,1112.69L650.00,1112.57L651.50,1112.44L653.00,1112.32L654.50,1112.20L656.00,1112.08L657.50,1111.97L659.00,1111.85L660.50,1111.74L662.00,1111.63L663.50,1111.52L664.00,1111.48" stroke="#007DC3"/>
<path d="M140.00,935.53L141.50,935.40L143.00,935.24L144.50,935.05L146.00,934.83L147.50,934.58L149.00,934.30L150.50,933.99L152.00,933.64L153.50,933.26L155.00,932.84L156.50,932.38L158.00,931.88L159.50,931.35L161.00,930.78L162.50,930.16L164.00,929.50L165.50,928.80L167.00,928.06L168.50,927.27L170.00,926.43L171.50,925.55L173.00,924.62L174.50,923.65L176.00,922.64L177.50,921.59L179.00,920.50L180.50,919.38L182.00,918.23L183.50,917.04L185.00,915.82L186.50,914.58L188.00,913.31L189.50,912.02L191.00,910.70L192.50,909.36L194.00,908.01L195.50,906.64L197.00,905.25L198.50,903.85L200.00,902.44L201.50,901.03L203.00,899.60L204.50,898.17L206.00,896.74L207.50,895.30L209.00,893.87L210.50,892.44L212.00,891.01L213.50,889.58L215.00,888.16L216.50,886.73L218.00,885.31L219.50,883.88L221.00,882.45L222.50,881.01L224.00,879.57L225.50,878.12L227.00,876.66L228.50,875.19L230.00,873.71L231.50,872.21L233.00,870.70L234.50,869.17L236.00,867.64L237.50,866.12L239.00,864.63L240.50,863.18L242.00,861.77L243.50,860.44L245.00,859.17L246.50,857.96L248.00,856.80L249.50,855.68L251.00,854.61L252.50,853.56L254.00,852.54L255.50,851.53L257.00,850.54L258.50,849.55L260.00,848.55L261.50,847.55L263.00,846.52L264.50,845.48L266.00,844.40L267.50,843.32L269.00,842.24L270.50,841.21L272.00,840.24L273.50,839.36L275.00,838.60L276.50,837.99L278.00,837.55L279.50,837.30L281.00,837.26L282.50,837.39L284.00,837.64L285.50,837.98L287.00,838.37L288.50,838.77L290.00,839.14L291.50,839.43L293.00,839.60L294.50,839.62L296.00,839.45L297.50,839.10L299.00,838.60L300.50,837.98L302.00,837.26L303.50,836.48L305.00,835.69L306.50,834.94L308.00,834.30L309.50,833.78L311.00,833.44L312.50,833.28L314.00,833.35L315.50,833.67L317.00,834.27L318.50,835.17L320.00,836.42L321.50,838.02L323.00,839.93L324.50,842.12L326.00,844.52L327.50,847.10L329.00,849.81L330.50,852.59L332.00,855.41L333.50,858.22L335.00,860.97L336.50,863.60L338.00,866.10L339.50,868.45L341.00,870.68L342.50,872.77L344.00,874.75L345.50,876.62L347.00,878.39L348.50,880.06L350.00,881.64L351.50,883.15L353.00,884.58L354.50,885.94L356.00,887.25L357.50,888.51L359.00,889.72L360.50,890.90L362.00,892.05L363.50,893.18L365.00,894.30L366.50,895.42L368.00,896.53L369.50,897.66L371.00,898.78L372.50,899.91L374.00,901.02L375.50,902.11L377.00,903.17L378.50,904.20L380.00,905.19L381.50,906.14L383.00,907.03L384.50,907.85L386.00,908.61L387.50,909.29L389.00,909.88L390.50,910.39L392.00,910.80L393.50,911.12L395.00,911.37L396.50,911.57L398.00,911.73L399.50,911.86L401.00,911.99L402.50,912.13L404.00,912.29L405.50,912.49L407.00,912.73L408.50,913.00L410.00,913.30L411.50,913.62L413.00,913.95L414.50,914.30L416.00,914.66L417.50,915.02L419.00,915.37L420.50,915.72L422.00,916.05L423.50,916.36L425.00,916.65L426.50,916.90L428.00,917.12L429.50,917.30L431.00,917.44L432.50,917.53L434.00,917.58L435.50,917.59L437.00,917.58L438.50,917.54L440.00,917.48L441.50,917.41L443.00,917.33L444.50,917.24L446.00,917.15L447.50,917.06L449.00,916.96L450.50,916.87L452.00,916.78L453.50,916.69L455.00,916.60L456.50,916.52L458.00,916.44L459.50,916.37L461.00,916.30L462.50,916.24L464.00,916.19L465.50,916.15L467.00,916.11L468.50,916.09L470.00,916.08L471.50,916.08L473.00,916.09L474.50,916.12L476.00,916.16L477.50,916.22L479.00,916.29L480.50,916.39L482.00,916.49L483.50,916.62L485.00,916.76L486.50,916.91L488.00,917.08L489.50,917.26L491.00,917.45L492.50,917.65L494.00,917.86L495.50,918.08L497.00,918.30L498.50,918.53L500.00,918.76L501.50,918.99L503.00,919.23L504.50,919.47L506.00,919.70L507.50,919.94L509.00,920.17L510.50,920.40L512.00,920.63L513.50,920.85L515.00,921.06L516.50,921.26L518.00,921.46L519.50,921.64L521.00,921.82L522.50,921.98L524.00,922.13L525.50,922.26L527.00,922.38L528.50,922.48L530.00,922.56L531.50,922.62L533.00,922.67L534.50,922.70L536.00,922.73L537.50,922.74L539.00,922.74L540.50,922.73L542.00,922.73L543.50,922.71L545.00,922.70L546.50,922.69L548.00,922.69L549.50,922.69L551.00,922.69L552.50,922.71L554.00,922.74L555.50,922.78L557.00,922.84L558.50,922.91L560.00,923.00L561.50,923.12L563.00,923.26L564.50,923.41L566.00,923.58L567.50,923.78L569.00,923.98L570.50,924.21L572.00,924.44L573.50,924.69L575.00,924.96L576.50,925.23L578.00,925.51L579.50,925.81L581.00,926.11L582.50,926.41L584.00,926.73L585.50,927.05L587.00,927.37L588.50,927.69L590.00,928.02L591.50,928.35L593.00,928.67L594.50,929.00L596.00,929.32L597.50,929.64L599.00,929.96L600.50,930.27L602.00,930.57L603.50,930.87L605.00,931.15L606.50,931.43L608.00,931.70L609.50,931.96L611.00,932.20L612.50,932.44L614.00,932.66L615.50,932.86L617.00,933.06L618.50,933.24L620.00,933.40L621.50,933.55L623.00,933.68L624.50,933.80L626.00,933.89L627.50,933.97L629.00,934.03L630.50,934.07L632.00,934.09L633.50,934.08L635.00,934.06L636.50,934.01L638.00,933.94L639.50,933.85L641.00,933.73L642.50,933.58L644.00,933.41L645.50,933.21L647.00,932.99L648.50,932.74L650.00,932.46L651.50,932.15L653.00,931.81L654.50,931.44L656.00,931.04L657.50,930.60L659.00,930.14L660.50,929.64L662.00,929.10L663.50,928.54L664.00,928.34" stroke="#C00000"/>
<path d="M140.00,789.12L141.50,789.48L143.00,789.83L144.50,790.19L146.00,790.53L147.50,790.88L149.00,791.22L150.50,791.56L152.00,791.89L153.50,792.22L155.00,792.55L156.50,792.88L158.00,793.20L159.50,793.51L161.00,793.83L162.50,794.14L164.00,794.45L165.50,794.75L167.00,795.05L168.50,795.35L170.00,795.64L171.50,795.93L173.00,796.21L174.50,796.50L176.00,796.78L177.50,797.05L179.00,797.32L180.50,797.59L182.00,797.86L183.50,798.12L185.00,798.38L186.50,798.63L188.00,798.88L189.50,799.13L191.00,799.37L192.50,799.61L194.00,799.85L195.50,800.08L197.00,800.31L198.50,800.53L200.00,800.76L201.50,800.97L203.00,801.19L204.50,801.40L206.00,801.61L207.50,801.81L209.00,802.01L210.50,802.21L212.00,802.40L213.50,802.59L215.00,802.77L216.50,802.95L218.00,803.13L219.50,803.31L221.00,803.48L222.50,803.64L224.00,803.80L225.50,803.96L227.00,804.12L228.50,804.27L230.00,804.42L231.50,804.56L233.00,804.70L234.50,804.84L236.00,804.97L237.50,805.10L239.00,805.23L240.50,805.35L242.00,805.47L243.50,805.58L245.00,805.69L246.50,805.80L248.00,805.90L249.50,806.00L251.00,806.10L252.50,806.19L254.00,806.28L255.50,806.36L257.00,806.45L258.50,806.53L260.00,806.61L261.50,806.68L263.00,806.76L264.50,806.83L266.00,806.91L267.50,806.98L269.00,807.05L270.50,807.12L272.00,807.19L273.50,807.26L275.00,807.33L276.50,807.39L278.00,807.46L279.50,807.53L281.00,807.60L282.50,807.68L284.00,807.75L285.50,807.82L287.00,807.90L288.50,807.98L290.00,808.06L291.50,808.14L293.00,808.22L294.50,808.31L296.00,808.40L297.50,808.49L299.00,808.59L300.50,808.69L302.00,808.79L303.50,808.90L305.00,809.01L306.50,809.12L308.00,809.24L309.50,809.37L311.00,809.50L312.50,809.63L314.00,809.77L315.50,809.92L317.00,810.07L318.50,810.22L320.00,810.39L321.50,810.56L323.00,810.73L324.50,810.92L326.00,811.11L327.50,811.31L329.00,811.52L330.50,811.73L332.00,811.96L333.50,812.19L335.00,812.44L336.50,812.69L338.00,812.95L339.50,813.23L341.00,813.51L342.50,813.81L344.00,814.12L345.50,814.44L347.00,814.78L348.50,815.12L350.00,815.48L351.50,815.85L353.00,816.21L354.50,816.58L356.00,816.95L357.50,817.31L359.00,817.67L360.50,818.01L362.00,818.34L363.50,818.65L365.00,818.95L366.50,819.24L368.00,819.52L369.50,819.78L371.00,820.03L372.50,820.27L374.00,820.50L375.50,820.71L377.00,820.92L378.50,821.12L380.00,821.31L381.50,821.49L383.00,821.66L384.50,821.82L386.00,821.97L387.50,822.12L389.00,822.26L390.50,822.39L392.00,822.52L393.50,822.64L395.00,822.76L396.50,822.87L398.00,822.98L399.50,823.09L401.00,823.19L402.50,823.29L404.00,823.38L405.50,823.48L407.00,823.57L408.50,823.66L410.00,823.75L411.50,823.83L413.00,823.92L414.50,824.01L416.00,824.09L417.50,824.17L419.00,824.25L420.50,824.33L422.00,824.41L423.50,824.48L425.00,824.56L426.50,824.63L428.00,824.70L429.50,824.77L431.00,824.84L432.50,824.91L434.00,824.98L435.50,825.04L437.00,825.10L438.50,825.17L440.00,825.23L441.50,825.29L443.00,825.35L444.50,825.41L446.00,825.46L447.50,825.52L449.00,825.57L450.50,825.63L452.00,825.68L453.50,825.73L455.00,825.78L456.50,825.83L458.00,825.88L459.50,825.92L461.00,825.97L462.50,826.01L464.00,826.06L465.50,826.10L467.00,826.14L468.50,826.18L470.00,826.22L471.50,826.26L473.00,826.30L474.50,826.33L476.00,826.37L477.50,826.41L479.00,826.44L480.50,826.47L482.00,826.50L483.50,826.54L485.00,826.57L486.50,826.60L488.00,826.63L489.50,826.65L491.00,826.68L492.50,826.71L494.00,826.73L495.50,826.76L497.00,826.78L498.50,826.81L500.00,826.83L501.50,826.85L503.00,826.87L504.50,826.90L506.00,826.92L507.50,826.94L509.00,826.95L510.50,826.97L512.00,826.99L513.50,827.01L515.00,827.03L516.50,827.04L518.00,827.06L519.50,827.07L521.00,827.09L522.50,827.10L524.00,827.11L525.50,827.13L527.00,827.14L528.50,827.15L530.00,827.16L531.50,827.18L533.00,827.19L534.50,827.20L536.00,827.21L537.50,827.22L539.00,827.23L540.50,827.24L542.00,827.25L543.50,827.25L545.00,827.26L546.50,827.27L548.00,827.28L549.50,827.29L551.00,827.29L552.50,827.30L554.00,827.31L555.50,827.31L557.00,827.32L558.50,827.33L560.00,827.33L561.50,827.34L563.00,827.34L564.50,827.35L566.00,827.35L567.50,827.36L569.00,827.36L570.50,827.37L572.00,827.37L573.50,827.38L575.00,827.39L576.50,827.39L578.00,827.40L579.50,827.40L581.00,827.41L582.50,827.41L584.00,827.42L585.50,827.42L587.00,827.43L588.50,827.43L590.00,827.44L591.50,827.44L593.00,827.45L594.50,827.45L596.00,827.46L597.50,827.47L599.00,827.47L600.50,827.48L602.00,827.49L603.50,827.49L605.00,827.50L606.50,827.51L608.00,827.52L609.50,827.52L611.00,827.53L612.50,827.54L614.00,827.55L615.50,827.56L617.00,827.57L618.50,827.58L620.00,827.59L621.50,827.60L623.00,827.61L624.50,827.62L626.00,827.64L627.50,827.65L629.00,827.66L630.50,827.67L632.00,827.69L633.50,827.70L635.00,827.72L636.50,827.73L638.00,827.75L639.50,827.76L641.00,827.78L642.50,827.80L644.00,827.82L645.50,827.84L647.00,827.86L648.50,827.88L650.00,827.90L651.50,827.92L653.00,827.94L654.50,827.96L656.00,827.99L657.50,828.01L659.00,828.03L660.50,828.06L662.00,828.09L663.50,828.11L664.00,828.12" stroke="#000000"/>
</g>
<g stroke="#000" stroke-width="3.80" fill="none">
<line x1="205.50" y1="1160.00" x2="205.50" y2="1152.10"/>
<line x1="271.00" y1="1160.00" x2="271.00" y2="1152.10"/>
<line x1="336.50" y1="1160.00" x2="336.50" y2="1152.10"/>
<line x1="402.00" y1="1160.00" x2="402.00" y2="1152.10"/>
<line x1="467.50" y1="1160.00" x2="467.50" y2="1152.10"/>
<line x1="533.00" y1="1160.00" x2="533.00" y2="1152.10"/>
<line x1="598.50" y1="1160.00" x2="598.50" y2="1152.10"/>
<line x1="140.00" y1="814.20" x2="147.90" y2="814.20"/>
<line x1="664.00" y1="814.20" x2="656.10" y2="814.20"/>
<line x1="140.00" y1="889.80" x2="147.90" y2="889.80"/>
<line x1="664.00" y1="889.80" x2="656.10" y2="889.80"/>
<line x1="140.00" y1="965.40" x2="147.90" y2="965.40"/>
<line x1="664.00" y1="965.40" x2="656.10" y2="965.40"/>
<line x1="140.00" y1="1039.20" x2="147.90" y2="1039.20"/>
<line x1="664.00" y1="1039.20" x2="656.10" y2="1039.20"/>
<line x1="140.00" y1="1099.50" x2="147.90" y2="1099.50"/>
<line x1="664.00" y1="1099.50" x2="656.10" y2="1099.50"/>
<line x1="138.10" y1="738.00" x2="665.90" y2="738.00"/>
<line x1="138.10" y1="1160.00" x2="665.90" y2="1160.00"/>
<line x1="140.00" y1="736.10" x2="140.00" y2="1161.90"/>
<line x1="664.00" y1="736.10" x2="664.00" y2="1161.90"/>
<line x1="131.60" y1="999.30" x2="148.40" y2="992.10" stroke-width="3.4"/>
<line x1="131.60" y1="1006.90" x2="148.40" y2="999.70" stroke-width="3.4"/>
<line x1="655.60" y1="999.30" x2="672.40" y2="992.10" stroke-width="3.4"/>
<line x1="655.60" y1="1006.90" x2="672.40" y2="999.70" stroke-width="3.4"/>
</g>
<rect x="521.20" y="947.85" width="50.60" height="4.50" fill="#FF911E"/>
<text x="579.50" y="958.10" font-size="30.50" font-style="italic">E<tspan font-size="22.30" dy="8.00">k</tspan></text>
<rect x="521.20" y="987.95" width="50.60" height="4.50" fill="#007DC3"/>
<text x="581.50" y="998.20" font-size="30.50" font-style="italic">E<tspan font-size="22.30" dy="8.00">p</tspan></text>
<rect x="521.20" y="1028.85" width="50.60" height="4.50" fill="#C00000"/>
<text x="581.50" y="1039.10" font-size="30.50" font-style="italic">E<tspan font-size="22.30" dy="8.00">s</tspan></text>
<rect x="521.20" y="1069.65" width="50.60" height="4.50" fill="#000000"/>
<text x="581.50" y="1079.90" font-size="30.50" font-style="italic">E<tspan font-size="22.30" dy="8.00">t</tspan></text>
<rect x="958.00" y="741.00" width="144.80" height="422.00" fill="#E8FEFE"/>
<rect x="1102.80" y="741.00" width="379.20" height="422.00" fill="#EAE6F4"/>
<rect x="1102.30" y="741.00" width="1" height="422.00" fill="#fff"/>
<clipPath id="clipd"><rect x="958.00" y="739.00" width="524.00" height="424.00"/></clipPath>
<g clip-path="url(#clipd)" fill="none" stroke-width="4.0" stroke-linejoin="round" stroke-linecap="butt">
<path d="M958.00,1057.86L959.50,1057.69L961.00,1057.55L962.50,1057.44L964.00,1057.36L965.50,1057.31L967.00,1057.28L968.50,1057.29L970.00,1057.32L971.50,1057.37L973.00,1057.45L974.50,1057.56L976.00,1057.69L977.50,1057.84L979.00,1058.02L980.50,1058.22L982.00,1058.44L983.50,1058.68L985.00,1058.95L986.50,1059.23L988.00,1059.54L989.50,1059.86L991.00,1060.21L992.50,1060.57L994.00,1060.95L995.50,1061.34L997.00,1061.76L998.50,1062.19L1000.00,1062.63L1001.50,1063.09L1003.00,1063.57L1004.50,1064.06L1006.00,1064.56L1007.50,1065.07L1009.00,1065.60L1010.50,1066.14L1012.00,1066.69L1013.50,1067.25L1015.00,1067.82L1016.50,1068.41L1018.00,1069.00L1019.50,1069.60L1021.00,1070.20L1022.50,1070.82L1024.00,1071.44L1025.50,1072.06L1027.00,1072.70L1028.50,1073.34L1030.00,1073.98L1031.50,1074.63L1033.00,1075.28L1034.50,1075.93L1036.00,1076.58L1037.50,1077.23L1039.00,1077.88L1040.50,1078.53L1042.00,1079.17L1043.50,1079.81L1045.00,1080.44L1046.50,1081.07L1048.00,1081.69L1049.50,1082.30L1051.00,1082.90L1052.50,1083.49L1054.00,1084.07L1055.50,1084.64L1057.00,1085.19L1058.50,1085.73L1060.00,1086.25L1061.50,1086.76L1063.00,1087.24L1064.50,1087.71L1066.00,1088.16L1067.50,1088.59L1069.00,1088.99L1070.50,1089.37L1072.00,1089.73L1073.50,1090.07L1075.00,1090.37L1076.50,1090.65L1078.00,1090.90L1079.50,1091.13L1081.00,1091.32L1082.50,1091.48L1084.00,1091.61L1085.50,1091.70L1087.00,1091.76L1088.50,1091.79L1090.00,1091.78L1091.50,1091.73L1093.00,1091.64L1094.50,1091.52L1096.00,1091.35L1097.50,1091.14L1099.00,1090.89L1100.50,1090.60L1102.00,1090.28L1103.50,1089.92L1105.00,1089.52L1106.50,1089.10L1108.00,1088.65L1109.50,1088.17L1111.00,1087.66L1112.50,1087.14L1114.00,1086.60L1115.50,1086.03L1117.00,1085.46L1118.50,1084.87L1120.00,1084.27L1121.50,1083.66L1123.00,1083.05L1124.50,1082.43L1126.00,1081.81L1127.50,1081.19L1129.00,1080.58L1130.50,1079.97L1132.00,1079.37L1133.50,1078.77L1135.00,1078.19L1136.50,1077.62L1138.00,1077.07L1139.50,1076.54L1141.00,1076.03L1142.50,1075.56L1144.00,1075.13L1145.50,1074.74L1147.00,1074.40L1148.50,1074.13L1150.00,1073.93L1151.50,1073.80L1153.00,1073.75L1154.50,1073.79L1156.00,1073.91L1157.50,1074.13L1159.00,1074.42L1160.50,1074.79L1162.00,1075.24L1163.50,1075.76L1165.00,1076.35L1166.50,1076.99L1168.00,1077.69L1169.50,1078.42L1171.00,1079.19L1172.50,1079.99L1174.00,1080.81L1175.50,1081.63L1177.00,1082.46L1178.50,1083.28L1180.00,1084.08L1181.50,1084.87L1183.00,1085.64L1184.50,1086.40L1186.00,1087.13L1187.50,1087.84L1189.00,1088.52L1190.50,1089.18L1192.00,1089.81L1193.50,1090.42L1195.00,1090.99L1196.50,1091.53L1198.00,1092.04L1199.50,1092.53L1201.00,1092.98L1202.50,1093.42L1204.00,1093.85L1205.50,1094.26L1207.00,1094.68L1208.50,1095.09L1210.00,1095.50L1211.50,1095.93L1213.00,1096.37L1214.50,1096.84L1216.00,1097.33L1217.50,1097.84L1219.00,1098.40L1220.50,1098.99L1222.00,1099.63L1223.50,1100.32L1225.00,1101.05L1226.50,1101.83L1228.00,1102.66L1229.50,1103.52L1231.00,1104.43L1232.50,1105.38L1234.00,1106.37L1235.50,1107.39L1237.00,1108.44L1238.50,1109.53L1240.00,1110.65L1241.50,1111.80L1243.00,1112.97L1244.50,1114.17L1246.00,1115.39L1247.50,1116.63L1249.00,1117.89L1250.50,1119.17L1252.00,1120.47L1253.50,1121.78L1255.00,1123.10L1256.50,1124.44L1258.00,1125.78L1259.50,1127.13L1261.00,1128.49L1262.50,1129.85L1264.00,1131.20L1265.50,1132.53L1267.00,1133.84L1268.50,1135.10L1270.00,1136.32L1271.50,1137.47L1273.00,1138.56L1274.50,1139.56L1276.00,1140.48L1277.50,1141.32L1279.00,1142.07L1280.50,1142.76L1282.00,1143.39L1283.50,1143.97L1285.00,1144.49L1286.50,1144.97L1288.00,1145.42L1289.50,1145.84L1291.00,1146.23L1292.50,1146.59L1294.00,1146.92L1295.50,1147.22L1297.00,1147.49L1298.50,1147.73L1300.00,1147.93L1301.50,1148.10L1303.00,1148.23L1304.50,1148.33L1306.00,1148.40L1307.50,1148.42L1309.00,1148.41L1310.50,1148.36L1312.00,1148.27L1313.50,1148.14L1315.00,1147.97L1316.50,1147.75L1318.00,1147.50L1319.50,1147.20L1321.00,1146.85L1322.50,1146.47L1324.00,1146.03L1325.50,1145.55L1327.00,1145.03L1328.50,1144.47L1330.00,1143.87L1331.50,1143.25L1333.00,1142.59L1334.50,1141.92L1336.00,1141.23L1337.50,1140.53L1339.00,1139.81L1340.50,1139.10L1342.00,1138.39L1343.50,1137.69L1345.00,1137.02L1346.50,1136.36L1348.00,1135.75L1349.50,1135.17L1351.00,1134.64L1352.50,1134.17L1354.00,1133.75L1355.50,1133.41L1357.00,1133.15L1358.50,1132.96L1360.00,1132.87L1361.50,1132.88L1363.00,1132.98L1364.50,1133.18L1366.00,1133.46L1367.50,1133.81L1369.00,1134.24L1370.50,1134.72L1372.00,1135.26L1373.50,1135.85L1375.00,1136.47L1376.50,1137.12L1378.00,1137.80L1379.50,1138.49L1381.00,1139.18L1382.50,1139.88L1384.00,1140.57L1385.50,1141.24L1387.00,1141.89L1388.50,1142.51L1390.00,1143.09L1391.50,1143.63L1393.00,1144.11L1394.50,1144.53L1396.00,1144.88L1397.50,1145.15L1399.00,1145.34L1400.50,1145.44L1402.00,1145.44L1403.50,1145.35L1405.00,1145.19L1406.50,1144.95L1408.00,1144.65L1409.50,1144.28L1411.00,1143.86L1412.50,1143.40L1414.00,1142.89L1415.50,1142.36L1417.00,1141.79L1418.50,1141.21L1420.00,1140.62L1421.50,1140.02L1423.00,1139.42L1424.50,1138.83L1426.00,1138.25L1427.50,1137.70L1429.00,1137.17L1430.50,1136.68L1432.00,1136.22L1433.50,1135.82L1435.00,1135.46L1436.50,1135.17L1438.00,1134.93L1439.50,1134.77L1441.00,1134.68L1442.50,1134.68L1444.00,1134.74L1445.50,1134.87L1447.00,1135.06L1448.50,1135.30L1450.00,1135.58L1451.50,1135.91L1453.00,1136.26L1454.50,1136.65L1456.00,1137.05L1457.50,1137.46L1459.00,1137.87L1460.50,1138.29L1462.00,1138.70L1463.50,1139.10L1465.00,1139.47L1466.50,1139.83L1468.00,1140.14L1469.50,1140.42L1471.00,1140.65L1472.50,1140.84L1474.00,1140.96L1475.50,1141.02L1477.00,1141.01L1478.50,1140.92L1480.00,1140.74L1481.50,1140.48L1482.00,1140.37" stroke="#FF911E"/>
<path d="M958.00,1107.27L959.50,1107.69L961.00,1108.11L962.50,1108.53L964.00,1108.94L965.50,1109.35L967.00,1109.76L968.50,1110.17L970.00,1110.57L971.50,1110.97L973.00,1111.36L974.50,1111.75L976.00,1112.14L977.50,1112.52L979.00,1112.90L980.50,1113.28L982.00,1113.66L983.50,1114.03L985.00,1114.40L986.50,1114.76L988.00,1115.13L989.50,1115.49L991.00,1115.84L992.50,1116.19L994.00,1116.54L995.50,1116.89L997.00,1117.23L998.50,1117.57L1000.00,1117.91L1001.50,1118.25L1003.00,1118.58L1004.50,1118.90L1006.00,1119.23L1007.50,1119.55L1009.00,1119.87L1010.50,1120.19L1012.00,1120.50L1013.50,1120.81L1015.00,1121.12L1016.50,1121.42L1018.00,1121.72L1019.50,1122.02L1021.00,1122.32L1022.50,1122.61L1024.00,1122.90L1025.50,1123.18L1027.00,1123.47L1028.50,1123.75L1030.00,1124.03L1031.50,1124.30L1033.00,1124.57L1034.50,1124.84L1036.00,1125.11L1037.50,1125.37L1039.00,1125.63L1040.50,1125.89L1042.00,1126.14L1043.50,1126.40L1045.00,1126.65L1046.50,1126.89L1048.00,1127.14L1049.50,1127.38L1051.00,1127.62L1052.50,1127.85L1054.00,1128.08L1055.50,1128.31L1057.00,1128.54L1058.50,1128.77L1060.00,1128.99L1061.50,1129.21L1063.00,1129.43L1064.50,1129.64L1066.00,1129.85L1067.50,1130.06L1069.00,1130.27L1070.50,1130.47L1072.00,1130.67L1073.50,1130.87L1075.00,1131.06L1076.50,1131.26L1078.00,1131.45L1079.50,1131.64L1081.00,1131.82L1082.50,1132.01L1084.00,1132.19L1085.50,1132.36L1087.00,1132.54L1088.50,1132.71L1090.00,1132.88L1091.50,1133.05L1093.00,1133.22L1094.50,1133.38L1096.00,1133.54L1097.50,1133.70L1099.00,1133.85L1100.50,1134.01L1102.00,1134.16L1103.50,1134.31L1105.00,1134.45L1106.50,1134.60L1108.00,1134.74L1109.50,1134.88L1111.00,1135.02L1112.50,1135.15L1114.00,1135.28L1115.50,1135.41L1117.00,1135.54L1118.50,1135.66L1120.00,1135.79L1121.50,1135.91L1123.00,1136.03L1124.50,1136.14L1126.00,1136.26L1127.50,1136.37L1129.00,1136.48L1130.50,1136.59L1132.00,1136.69L1133.50,1136.79L1135.00,1136.89L1136.50,1136.99L1138.00,1137.09L1139.50,1137.18L1141.00,1137.28L1142.50,1137.37L1144.00,1137.45L1145.50,1137.54L1147.00,1137.62L1148.50,1137.70L1150.00,1137.78L1151.50,1137.86L1153.00,1137.94L1154.50,1138.01L1156.00,1138.08L1157.50,1138.15L1159.00,1138.22L1160.50,1138.28L1162.00,1138.34L1163.50,1138.41L1165.00,1138.46L1166.50,1138.52L1168.00,1138.58L1169.50,1138.63L1171.00,1138.68L1172.50,1138.73L1174.00,1138.78L1175.50,1138.82L1177.00,1138.87L1178.50,1138.91L1180.00,1138.95L1181.50,1138.99L1183.00,1139.02L1184.50,1139.06L1186.00,1139.09L1187.50,1139.12L1189.00,1139.15L1190.50,1139.18L1192.00,1139.21L1193.50,1139.23L1195.00,1139.25L1196.50,1139.28L1198.00,1139.30L1199.50,1139.31L1201.00,1139.33L1202.50,1139.34L1204.00,1139.36L1205.50,1139.37L1207.00,1139.38L1208.50,1139.39L1210.00,1139.40L1211.50,1139.40L1213.00,1139.41L1214.50,1139.41L1216.00,1139.41L1217.50,1139.41L1219.00,1139.41L1220.50,1139.41L1222.00,1139.41L1223.50,1139.40L1225.00,1139.40L1226.50,1139.39L1228.00,1139.38L1229.50,1139.37L1231.00,1139.36L1232.50,1139.35L1234.00,1139.34L1235.50,1139.32L1237.00,1139.31L1238.50,1139.29L1240.00,1139.27L1241.50,1139.26L1243.00,1139.24L1244.50,1139.22L1246.00,1139.19L1247.50,1139.17L1249.00,1139.15L1250.50,1139.12L1252.00,1139.10L1253.50,1139.07L1255.00,1139.05L1256.50,1139.02L1258.00,1138.99L1259.50,1138.96L1261.00,1138.93L1262.50,1138.90L1264.00,1138.87L1265.50,1138.84L1267.00,1138.80L1268.50,1138.77L1270.00,1138.73L1271.50,1138.70L1273.00,1138.66L1274.50,1138.63L1276.00,1138.59L1277.50,1138.55L1279.00,1138.51L1280.50,1138.47L1282.00,1138.44L1283.50,1138.40L1285.00,1138.35L1286.50,1138.31L1288.00,1138.27L1289.50,1138.23L1291.00,1138.19L1292.50,1138.15L1294.00,1138.10L1295.50,1138.06L1297.00,1138.02L1298.50,1137.97L1300.00,1137.93L1301.50,1137.88L1303.00,1137.84L1304.50,1137.80L1306.00,1137.75L1307.50,1137.71L1309.00,1137.66L1310.50,1137.61L1312.00,1137.57L1313.50,1137.52L1315.00,1137.48L1316.50,1137.43L1318.00,1137.38L1319.50,1137.34L1321.00,1137.29L1322.50,1137.25L1324.00,1137.20L1325.50,1137.15L1327.00,1137.11L1328.50,1137.06L1330.00,1137.01L1331.50,1136.97L1333.00,1136.92L1334.50,1136.88L1336.00,1136.83L1337.50,1136.79L1339.00,1136.74L1340.50,1136.70L1342.00,1136.65L1343.50,1136.61L1345.00,1136.56L1346.50,1136.52L1348.00,1136.47L1349.50,1136.43L1351.00,1136.39L1352.50,1136.34L1354.00,1136.30L1355.50,1136.26L1357.00,1136.22L1358.50,1136.17L1360.00,1136.13L1361.50,1136.09L1363.00,1136.05L1364.50,1136.01L1366.00,1135.97L1367.50,1135.93L1369.00,1135.89L1370.50,1135.85L1372.00,1135.81L1373.50,1135.78L1375.00,1135.74L1376.50,1135.70L1378.00,1135.67L1379.50,1135.63L1381.00,1135.59L1382.50,1135.56L1384.00,1135.52L1385.50,1135.49L1387.00,1135.46L1388.50,1135.43L1390.00,1135.39L1391.50,1135.36L1393.00,1135.33L1394.50,1135.30L1396.00,1135.27L1397.50,1135.24L1399.00,1135.22L1400.50,1135.19L1402.00,1135.16L1403.50,1135.14L1405.00,1135.11L1406.50,1135.09L1408.00,1135.06L1409.50,1135.04L1411.00,1135.02L1412.50,1135.00L1414.00,1134.98L1415.50,1134.96L1417.00,1134.94L1418.50,1134.92L1420.00,1134.90L1421.50,1134.89L1423.00,1134.87L1424.50,1134.86L1426.00,1134.84L1427.50,1134.83L1429.00,1134.82L1430.50,1134.81L1432.00,1134.80L1433.50,1134.79L1435.00,1134.78L1436.50,1134.77L1438.00,1134.77L1439.50,1134.76L1441.00,1134.76L1442.50,1134.76L1444.00,1134.75L1445.50,1134.75L1447.00,1134.75L1448.50,1134.76L1450.00,1134.76L1451.50,1134.76L1453.00,1134.77L1454.50,1134.77L1456.00,1134.78L1457.50,1134.79L1459.00,1134.80L1460.50,1134.81L1462.00,1134.82L1463.50,1134.84L1465.00,1134.85L1466.50,1134.87L1468.00,1134.88L1469.50,1134.90L1471.00,1134.92L1472.50,1134.94L1474.00,1134.97L1475.50,1134.99L1477.00,1135.02L1478.50,1135.04L1480.00,1135.07L1481.50,1135.10L1482.00,1135.11" stroke="#007DC3"/>
<path d="M958.00,914.06L959.50,913.96L961.00,913.84L962.50,913.68L964.00,913.49L965.50,913.28L967.00,913.04L968.50,912.77L970.00,912.48L971.50,912.15L973.00,911.81L974.50,911.44L976.00,911.04L977.50,910.62L979.00,910.18L980.50,909.72L982.00,909.23L983.50,908.72L985.00,908.20L986.50,907.65L988.00,907.08L989.50,906.49L991.00,905.88L992.50,905.26L994.00,904.62L995.50,903.96L997.00,903.28L998.50,902.59L1000.00,901.89L1001.50,901.17L1003.00,900.43L1004.50,899.69L1006.00,898.92L1007.50,898.15L1009.00,897.37L1010.50,896.57L1012.00,895.76L1013.50,894.94L1015.00,894.12L1016.50,893.28L1018.00,892.44L1019.50,891.59L1021.00,890.73L1022.50,889.86L1024.00,888.99L1025.50,888.11L1027.00,887.23L1028.50,886.34L1030.00,885.45L1031.50,884.55L1033.00,883.66L1034.50,882.76L1036.00,881.87L1037.50,880.97L1039.00,880.08L1040.50,879.20L1042.00,878.32L1043.50,877.44L1045.00,876.58L1046.50,875.72L1048.00,874.88L1049.50,874.05L1051.00,873.22L1052.50,872.42L1054.00,871.63L1055.50,870.85L1057.00,870.10L1058.50,869.36L1060.00,868.64L1061.50,867.94L1063.00,867.27L1064.50,866.62L1066.00,865.99L1067.50,865.39L1069.00,864.82L1070.50,864.28L1072.00,863.76L1073.50,863.28L1075.00,862.83L1076.50,862.41L1078.00,862.03L1079.50,861.68L1081.00,861.37L1082.50,861.09L1084.00,860.86L1085.50,860.67L1087.00,860.52L1088.50,860.41L1090.00,860.34L1091.50,860.32L1093.00,860.35L1094.50,860.43L1096.00,860.55L1097.50,860.73L1099.00,860.95L1100.50,861.23L1102.00,861.56L1103.50,861.95L1105.00,862.38L1106.50,862.87L1108.00,863.40L1109.50,863.97L1111.00,864.58L1112.50,865.23L1114.00,865.92L1115.50,866.63L1117.00,867.37L1118.50,868.14L1120.00,868.93L1121.50,869.75L1123.00,870.58L1124.50,871.42L1126.00,872.27L1127.50,873.14L1129.00,874.01L1130.50,874.88L1132.00,875.76L1133.50,876.63L1135.00,877.49L1136.50,878.35L1138.00,879.20L1139.50,880.03L1141.00,880.85L1142.50,881.65L1144.00,882.42L1145.50,883.16L1147.00,883.86L1148.50,884.50L1150.00,885.07L1151.50,885.56L1153.00,885.96L1154.50,886.27L1156.00,886.46L1157.50,886.53L1159.00,886.50L1160.50,886.37L1162.00,886.18L1163.50,885.92L1165.00,885.62L1166.50,885.30L1168.00,884.97L1169.50,884.65L1171.00,884.36L1172.50,884.08L1174.00,883.84L1175.50,883.62L1177.00,883.42L1178.50,883.24L1180.00,883.09L1181.50,882.97L1183.00,882.86L1184.50,882.78L1186.00,882.72L1187.50,882.68L1189.00,882.66L1190.50,882.66L1192.00,882.69L1193.50,882.73L1195.00,882.79L1196.50,882.87L1198.00,882.97L1199.50,883.08L1201.00,883.21L1202.50,883.36L1204.00,883.53L1205.50,883.72L1207.00,883.91L1208.50,884.13L1210.00,884.36L1211.50,884.60L1213.00,884.85L1214.50,885.09L1216.00,885.32L1217.50,885.52L1219.00,885.68L1220.50,885.79L1222.00,885.84L1223.50,885.82L1225.00,885.72L1226.50,885.56L1228.00,885.34L1229.50,885.05L1231.00,884.71L1232.50,884.31L1234.00,883.86L1235.50,883.36L1237.00,882.81L1238.50,882.23L1240.00,881.60L1241.50,880.93L1243.00,880.23L1244.50,879.50L1246.00,878.74L1247.50,877.96L1249.00,877.15L1250.50,876.33L1252.00,875.48L1253.50,874.63L1255.00,873.76L1256.50,872.89L1258.00,872.01L1259.50,871.12L1261.00,870.24L1262.50,869.36L1264.00,868.49L1265.50,867.62L1267.00,866.77L1268.50,865.93L1270.00,865.10L1271.50,864.30L1273.00,863.51L1274.50,862.75L1276.00,862.02L1277.50,861.32L1279.00,860.66L1280.50,860.02L1282.00,859.43L1283.50,858.88L1285.00,858.37L1286.50,857.91L1288.00,857.50L1289.50,857.15L1291.00,856.84L1292.50,856.58L1294.00,856.38L1295.50,856.23L1297.00,856.12L1298.50,856.07L1300.00,856.06L1301.50,856.10L1303.00,856.19L1304.50,856.32L1306.00,856.50L1307.50,856.73L1309.00,857.00L1310.50,857.32L1312.00,857.68L1313.50,858.08L1315.00,858.53L1316.50,859.02L1318.00,859.55L1319.50,860.13L1321.00,860.75L1322.50,861.42L1324.00,862.14L1325.50,862.90L1327.00,863.72L1328.50,864.58L1330.00,865.50L1331.50,866.47L1333.00,867.49L1334.50,868.57L1336.00,869.70L1337.50,870.89L1339.00,872.14L1340.50,873.43L1342.00,874.75L1343.50,876.06L1345.00,877.35L1346.50,878.60L1348.00,879.78L1349.50,880.90L1351.00,881.94L1352.50,882.91L1354.00,883.81L1355.50,884.63L1357.00,885.37L1358.50,886.04L1360.00,886.63L1361.50,887.15L1363.00,887.58L1364.50,887.94L1366.00,888.23L1367.50,888.45L1369.00,888.61L1370.50,888.71L1372.00,888.76L1373.50,888.75L1375.00,888.70L1376.50,888.60L1378.00,888.46L1379.50,888.28L1381.00,888.07L1382.50,887.83L1384.00,887.57L1385.50,887.28L1387.00,886.97L1388.50,886.66L1390.00,886.35L1391.50,886.06L1393.00,885.80L1394.50,885.60L1396.00,885.45L1397.50,885.39L1399.00,885.42L1400.50,885.55L1402.00,885.80L1403.50,886.15L1405.00,886.60L1406.50,887.14L1408.00,887.76L1409.50,888.45L1411.00,889.21L1412.50,890.02L1414.00,890.88L1415.50,891.79L1417.00,892.73L1418.50,893.69L1420.00,894.67L1421.50,895.66L1423.00,896.65L1424.50,897.63L1426.00,898.60L1427.50,899.54L1429.00,900.44L1430.50,901.30L1432.00,902.10L1433.50,902.83L1435.00,903.49L1436.50,904.06L1438.00,904.54L1439.50,904.92L1441.00,905.18L1442.50,905.32L1444.00,905.36L1445.50,905.30L1447.00,905.17L1448.50,904.96L1450.00,904.71L1451.50,904.42L1453.00,904.10L1454.50,903.77L1456.00,903.44L1457.50,903.11L1459.00,902.78L1460.50,902.47L1462.00,902.16L1463.50,901.88L1465.00,901.61L1466.50,901.36L1468.00,901.14L1469.50,900.94L1471.00,900.78L1472.50,900.65L1474.00,900.56L1475.50,900.51L1477.00,900.50L1478.50,900.54L1480.00,900.62L1481.50,900.77L1482.00,900.83" stroke="#C00000"/>
<path d="M958.00,746.33L959.50,746.58L961.00,746.83L962.50,747.06L964.00,747.29L965.50,747.50L967.00,747.71L968.50,747.92L970.00,748.11L971.50,748.30L973.00,748.48L974.50,748.65L976.00,748.82L977.50,748.98L979.00,749.13L980.50,749.28L982.00,749.42L983.50,749.56L985.00,749.69L986.50,749.81L988.00,749.93L989.50,750.04L991.00,750.15L992.50,750.25L994.00,750.35L995.50,750.44L997.00,750.53L998.50,750.61L1000.00,750.69L1001.50,750.77L1003.00,750.84L1004.50,750.91L1006.00,750.97L1007.50,751.04L1009.00,751.09L1010.50,751.15L1012.00,751.20L1013.50,751.25L1015.00,751.30L1016.50,751.34L1018.00,751.39L1019.50,751.43L1021.00,751.46L1022.50,751.50L1024.00,751.54L1025.50,751.57L1027.00,751.60L1028.50,751.64L1030.00,751.67L1031.50,751.70L1033.00,751.73L1034.50,751.76L1036.00,751.79L1037.50,751.82L1039.00,751.84L1040.50,751.87L1042.00,751.90L1043.50,751.94L1045.00,751.97L1046.50,752.00L1048.00,752.03L1049.50,752.07L1051.00,752.10L1052.50,752.14L1054.00,752.18L1055.50,752.22L1057.00,752.27L1058.50,752.31L1060.00,752.36L1061.50,752.41L1063.00,752.47L1064.50,752.53L1066.00,752.59L1067.50,752.65L1069.00,752.72L1070.50,752.79L1072.00,752.86L1073.50,752.94L1075.00,753.02L1076.50,753.11L1078.00,753.20L1079.50,753.30L1081.00,753.40L1082.50,753.50L1084.00,753.61L1085.50,753.73L1087.00,753.85L1088.50,753.98L1090.00,754.11L1091.50,754.25L1093.00,754.39L1094.50,754.54L1096.00,754.70L1097.50,754.87L1099.00,755.04L1100.50,755.22L1102.00,755.40L1103.50,755.59L1105.00,755.79L1106.50,756.00L1108.00,756.21L1109.50,756.44L1111.00,756.67L1112.50,756.90L1114.00,757.15L1115.50,757.40L1117.00,757.66L1118.50,757.93L1120.00,758.21L1121.50,758.49L1123.00,758.78L1124.50,759.08L1126.00,759.39L1127.50,759.71L1129.00,760.04L1130.50,760.37L1132.00,760.71L1133.50,761.06L1135.00,761.42L1136.50,761.79L1138.00,762.16L1139.50,762.55L1141.00,762.94L1142.50,763.34L1144.00,763.75L1145.50,764.17L1147.00,764.60L1148.50,765.03L1150.00,765.48L1151.50,765.93L1153.00,766.40L1154.50,766.87L1156.00,767.35L1157.50,767.84L1159.00,768.34L1160.50,768.85L1162.00,769.37L1163.50,769.90L1165.00,770.43L1166.50,770.98L1168.00,771.54L1169.50,772.10L1171.00,772.68L1172.50,773.27L1174.00,773.86L1175.50,774.47L1177.00,775.08L1178.50,775.71L1180.00,776.34L1181.50,776.99L1183.00,777.64L1184.50,778.30L1186.00,778.97L1187.50,779.64L1189.00,780.33L1190.50,781.01L1192.00,781.71L1193.50,782.40L1195.00,783.10L1196.50,783.81L1198.00,784.52L1199.50,785.23L1201.00,785.94L1202.50,786.65L1204.00,787.36L1205.50,788.07L1207.00,788.78L1208.50,789.49L1210.00,790.20L1211.50,790.90L1213.00,791.60L1214.50,792.30L1216.00,792.99L1217.50,793.67L1219.00,794.35L1220.50,795.03L1222.00,795.69L1223.50,796.35L1225.00,797.00L1226.50,797.64L1228.00,798.27L1229.50,798.89L1231.00,799.50L1232.50,800.10L1234.00,800.69L1235.50,801.26L1237.00,801.82L1238.50,802.37L1240.00,802.90L1241.50,803.42L1243.00,803.92L1244.50,804.41L1246.00,804.89L1247.50,805.35L1249.00,805.79L1250.50,806.22L1252.00,806.64L1253.50,807.04L1255.00,807.43L1256.50,807.81L1258.00,808.17L1259.50,808.51L1261.00,808.84L1262.50,809.16L1264.00,809.46L1265.50,809.75L1267.00,810.03L1268.50,810.29L1270.00,810.53L1271.50,810.76L1273.00,810.98L1274.50,811.18L1276.00,811.37L1277.50,811.55L1279.00,811.71L1280.50,811.87L1282.00,812.02L1283.50,812.16L1285.00,812.30L1286.50,812.44L1288.00,812.57L1289.50,812.71L1291.00,812.85L1292.50,813.00L1294.00,813.15L1295.50,813.31L1297.00,813.48L1298.50,813.66L1300.00,813.85L1301.50,814.06L1303.00,814.29L1304.50,814.53L1306.00,814.78L1307.50,815.05L1309.00,815.34L1310.50,815.64L1312.00,815.95L1313.50,816.28L1315.00,816.61L1316.50,816.96L1318.00,817.33L1319.50,817.70L1321.00,818.08L1322.50,818.47L1324.00,818.87L1325.50,819.28L1327.00,819.69L1328.50,820.11L1330.00,820.54L1331.50,820.98L1333.00,821.42L1334.50,821.87L1336.00,822.32L1337.50,822.78L1339.00,823.23L1340.50,823.70L1342.00,824.16L1343.50,824.62L1345.00,825.09L1346.50,825.56L1348.00,826.03L1349.50,826.49L1351.00,826.96L1352.50,827.42L1354.00,827.89L1355.50,828.35L1357.00,828.81L1358.50,829.26L1360.00,829.71L1361.50,830.16L1363.00,830.61L1364.50,831.06L1366.00,831.50L1367.50,831.93L1369.00,832.37L1370.50,832.80L1372.00,833.23L1373.50,833.65L1375.00,834.07L1376.50,834.49L1378.00,834.90L1379.50,835.31L1381.00,835.71L1382.50,836.11L1384.00,836.51L1385.50,836.90L1387.00,837.28L1388.50,837.66L1390.00,838.04L1391.50,838.41L1393.00,838.78L1394.50,839.14L1396.00,839.49L1397.50,839.85L1399.00,840.19L1400.50,840.53L1402.00,840.86L1403.50,841.19L1405.00,841.51L1406.50,841.83L1408.00,842.14L1409.50,842.44L1411.00,842.74L1412.50,843.03L1414.00,843.31L1415.50,843.59L1417.00,843.86L1418.50,844.12L1420.00,844.37L1421.50,844.62L1423.00,844.86L1424.50,845.10L1426.00,845.32L1427.50,845.54L1429.00,845.75L1430.50,845.96L1432.00,846.15L1433.50,846.34L1435.00,846.52L1436.50,846.69L1438.00,846.85L1439.50,847.00L1441.00,847.15L1442.50,847.28L1444.00,847.41L1445.50,847.53L1447.00,847.64L1448.50,847.74L1450.00,847.83L1451.50,847.91L1453.00,847.98L1454.50,848.04L1456.00,848.10L1457.50,848.14L1459.00,848.17L1460.50,848.20L1462.00,848.21L1463.50,848.21L1465.00,848.20L1466.50,848.18L1468.00,848.15L1469.50,848.11L1471.00,848.06L1472.50,848.00L1474.00,847.93L1475.50,847.84L1477.00,847.75L1478.50,847.64L1480.00,847.52L1481.50,847.39L1482.00,847.35" stroke="#000000"/>
</g>
<g stroke="#000" stroke-width="3.80" fill="none">
<line x1="1023.50" y1="1163.00" x2="1023.50" y2="1155.10"/>
<line x1="1089.00" y1="1163.00" x2="1089.00" y2="1155.10"/>
<line x1="1154.50" y1="1163.00" x2="1154.50" y2="1155.10"/>
<line x1="1220.00" y1="1163.00" x2="1220.00" y2="1155.10"/>
<line x1="1285.50" y1="1163.00" x2="1285.50" y2="1155.10"/>
<line x1="1351.00" y1="1163.00" x2="1351.00" y2="1155.10"/>
<line x1="1416.50" y1="1163.00" x2="1416.50" y2="1155.10"/>
<line x1="958.00" y1="814.80" x2="965.90" y2="814.80"/>
<line x1="1482.00" y1="814.80" x2="1474.10" y2="814.80"/>
<line x1="958.00" y1="888.30" x2="965.90" y2="888.30"/>
<line x1="1482.00" y1="888.30" x2="1474.10" y2="888.30"/>
<line x1="958.00" y1="962.10" x2="965.90" y2="962.10"/>
<line x1="1482.00" y1="962.10" x2="1474.10" y2="962.10"/>
<line x1="958.00" y1="1020.80" x2="965.90" y2="1020.80"/>
<line x1="1482.00" y1="1020.80" x2="1474.10" y2="1020.80"/>
<line x1="958.00" y1="1091.70" x2="965.90" y2="1091.70"/>
<line x1="1482.00" y1="1091.70" x2="1474.10" y2="1091.70"/>
<line x1="956.10" y1="741.00" x2="1483.90" y2="741.00"/>
<line x1="956.10" y1="1163.00" x2="1483.90" y2="1163.00"/>
<line x1="958.00" y1="739.10" x2="958.00" y2="1164.90"/>
<line x1="1482.00" y1="739.10" x2="1482.00" y2="1164.90"/>
<line x1="949.60" y1="1002.50" x2="966.40" y2="995.30" stroke-width="3.4"/>
<line x1="949.60" y1="1010.10" x2="966.40" y2="1002.90" stroke-width="3.4"/>
<line x1="1473.60" y1="1002.50" x2="1490.40" y2="995.30" stroke-width="3.4"/>
<line x1="1473.60" y1="1010.10" x2="1490.40" y2="1002.90" stroke-width="3.4"/>
</g>
<rect x="1365.30" y="936.15" width="51.00" height="4.50" fill="#FF911E"/>
<text x="1424.70" y="946.40" font-size="27.20" font-style="italic">E<tspan font-size="25.50" dy="8.70">k</tspan></text>
<rect x="1365.30" y="974.25" width="51.00" height="4.50" fill="#007DC3"/>
<text x="1424.70" y="984.50" font-size="27.20" font-style="italic">E<tspan font-size="25.50" dy="8.70">p</tspan></text>
<rect x="1365.30" y="1012.65" width="51.00" height="4.50" fill="#C00000"/>
<text x="1424.70" y="1022.90" font-size="27.20" font-style="italic">E<tspan font-size="25.50" dy="8.70">s</tspan></text>
<rect x="1365.30" y="1050.75" width="51.00" height="4.50" fill="#000000"/>
<text x="1424.70" y="1061.00" font-size="27.20" font-style="italic">E<tspan font-size="25.50" dy="8.70">t</tspan></text>
<text x="137.50" y="90.15" font-size="32.30" text-anchor="end" >0.55</text>
<text x="137.50" y="152.15" font-size="32.30" text-anchor="end" >0.50</text>
<text x="137.50" y="214.15" font-size="32.30" text-anchor="end" >0.45</text>
<text x="137.50" y="276.15" font-size="32.30" text-anchor="end" >0.40</text>
<text x="137.50" y="355.15" font-size="32.30" text-anchor="end" >0.10</text>
<text x="137.50" y="433.65" font-size="32.30" text-anchor="end" >0.05</text>
<text x="137.50" y="512.15" font-size="32.30" text-anchor="end" >0.00</text>
<text x="942.60" y="88.15" font-size="32.30" text-anchor="end" >3.20</text>
<text x="942.60" y="153.05" font-size="32.30" text-anchor="end" >3.15</text>
<text x="942.60" y="217.65" font-size="32.30" text-anchor="end" >3.10</text>
<text x="942.60" y="282.65" font-size="32.30" text-anchor="end" >3.05</text>
<text x="942.60" y="350.55" font-size="32.30" text-anchor="end" >0.10</text>
<text x="942.60" y="430.15" font-size="32.30" text-anchor="end" >0.05</text>
<text x="942.60" y="510.15" font-size="32.30" text-anchor="end" >0.00</text>
<text x="130.60" y="748.15" font-size="32.30" text-anchor="end" >0.7</text>
<text x="130.60" y="824.35" font-size="32.30" text-anchor="end" >0.6</text>
<text x="130.60" y="899.95" font-size="32.30" text-anchor="end" >0.5</text>
<text x="130.60" y="975.55" font-size="32.30" text-anchor="end" >0.4</text>
<text x="130.60" y="1049.35" font-size="32.30" text-anchor="end" >0.2</text>
<text x="130.60" y="1109.65" font-size="32.30" text-anchor="end" >0.1</text>
<text x="130.60" y="1170.15" font-size="32.30" text-anchor="end" >0.0</text>
<text x="948.80" y="751.15" font-size="32.30" text-anchor="end" >3.3</text>
<text x="948.80" y="824.95" font-size="32.30" text-anchor="end" >3.2</text>
<text x="948.80" y="898.45" font-size="32.30" text-anchor="end" >3.1</text>
<text x="948.80" y="972.25" font-size="32.30" text-anchor="end" >3.0</text>
<text x="948.80" y="1030.95" font-size="32.30" text-anchor="end" >0.2</text>
<text x="948.80" y="1101.85" font-size="32.30" text-anchor="end" >0.1</text>
<text x="948.80" y="1173.15" font-size="32.30" text-anchor="end" >0.0</text>
<text x="147.00" y="536.70" font-size="32.30" text-anchor="middle" >0</text>
<text x="221.86" y="536.70" font-size="32.30" text-anchor="middle" >2</text>
<text x="296.71" y="536.70" font-size="32.30" text-anchor="middle" >4</text>
<text x="371.57" y="536.70" font-size="32.30" text-anchor="middle" >6</text>
<text x="446.43" y="536.70" font-size="32.30" text-anchor="middle" >8</text>
<text x="521.29" y="536.70" font-size="32.30" text-anchor="middle" >10</text>
<text x="596.14" y="536.70" font-size="32.30" text-anchor="middle" >12</text>
<text x="671.00" y="536.70" font-size="32.30" text-anchor="middle" >14</text>
<text x="951.00" y="534.30" font-size="32.30" text-anchor="middle" >0</text>
<text x="1025.86" y="534.30" font-size="32.30" text-anchor="middle" >2</text>
<text x="1100.71" y="534.30" font-size="32.30" text-anchor="middle" >4</text>
<text x="1175.57" y="534.30" font-size="32.30" text-anchor="middle" >6</text>
<text x="1250.43" y="534.30" font-size="32.30" text-anchor="middle" >8</text>
<text x="1325.29" y="534.30" font-size="32.30" text-anchor="middle" >10</text>
<text x="1400.14" y="534.30" font-size="32.30" text-anchor="middle" >12</text>
<text x="1475.00" y="534.30" font-size="32.30" text-anchor="middle" >14</text>
<text x="140.00" y="1194.20" font-size="32.30" text-anchor="middle" >0</text>
<text x="205.50" y="1194.20" font-size="32.30" text-anchor="middle" >2</text>
<text x="271.00" y="1194.20" font-size="32.30" text-anchor="middle" >4</text>
<text x="336.50" y="1194.20" font-size="32.30" text-anchor="middle" >6</text>
<text x="402.00" y="1194.20" font-size="32.30" text-anchor="middle" >8</text>
<text x="467.50" y="1194.20" font-size="32.30" text-anchor="middle" >10</text>
<text x="533.00" y="1194.20" font-size="32.30" text-anchor="middle" >12</text>
<text x="598.50" y="1194.20" font-size="32.30" text-anchor="middle" >14</text>
<text x="664.00" y="1194.20" font-size="32.30" text-anchor="middle" >16</text>
<text x="958.00" y="1197.30" font-size="32.30" text-anchor="middle" >0</text>
<text x="1023.50" y="1197.30" font-size="32.30" text-anchor="middle" >2</text>
<text x="1089.00" y="1197.30" font-size="32.30" text-anchor="middle" >4</text>
<text x="1154.50" y="1197.30" font-size="32.30" text-anchor="middle" >6</text>
<text x="1220.00" y="1197.30" font-size="32.30" text-anchor="middle" >8</text>
<text x="1285.50" y="1197.30" font-size="32.30" text-anchor="middle" >10</text>
<text x="1351.00" y="1197.30" font-size="32.30" text-anchor="middle" >12</text>
<text x="1416.50" y="1197.30" font-size="32.30" text-anchor="middle" >14</text>
<text x="1482.00" y="1197.30" font-size="32.30" text-anchor="middle" >16</text>
<text x="336.00" y="576.20" font-size="36.60" text-anchor="start" >Time (ms)</text>
<text x="1131.50" y="572.10" font-size="36.60" text-anchor="start" >Time (ms)</text>
<text x="329.00" y="1234.10" font-size="36.60" text-anchor="start" >Time (ms)</text>
<text x="1139.40" y="1235.00" font-size="36.60" text-anchor="start" >Time (ms)</text>
<text transform="translate(52.20,452.20) rotate(-90)" font-size="35.8">Energy of SD <tspan font-size="31">(</tspan>10<tspan font-size="22" dy="-15.9">-6</tspan><tspan dy="15.9">J</tspan><tspan font-size="31">)</tspan></text>
<text transform="translate(853.90,450.70) rotate(-90)" font-size="35.8">Energy of HD <tspan font-size="31">(</tspan>10<tspan font-size="22" dy="-15.9">-6</tspan><tspan dy="15.9">J</tspan><tspan font-size="31">)</tspan></text>
<text transform="translate(62.30,1109.70) rotate(-90)" font-size="35.8">Energy of SD <tspan font-size="31">(</tspan>10<tspan font-size="22" dy="-15.9">-6</tspan><tspan dy="15.9">J</tspan><tspan font-size="31">)</tspan></text>
<text transform="translate(878.90,1113.90) rotate(-90)" font-size="35.8">Energy of HD <tspan font-size="31">(</tspan>10<tspan font-size="22" dy="-15.9">-6</tspan><tspan dy="15.9">J</tspan><tspan font-size="31">)</tspan></text>
<text x="300.00" y="46.10" font-size="26.5">V<tspan font-size="18" dy="6">0</tspan><tspan dy="-6"> = 0.135 m s</tspan><tspan font-size="18" dy="-8.5">-1</tspan></text>
<text x="1124.50" y="40.00" font-size="26.5">V<tspan font-size="18" dy="6">0</tspan><tspan dy="-6"> = 0.135 m s</tspan><tspan font-size="18" dy="-8.5">-1</tspan></text>
<text x="300.00" y="708.50" font-size="26.5">V<tspan font-size="18" dy="6">0</tspan><tspan dy="-6"> = 0.270 m s</tspan><tspan font-size="18" dy="-8.5">-1</tspan></text>
<text x="1124.50" y="697.90" font-size="26.5">V<tspan font-size="18" dy="6">0</tspan><tspan dy="-6"> = 0.270 m s</tspan><tspan font-size="18" dy="-8.5">-1</tspan></text>
<text x="-1.00" y="22.70" font-size="27.30" text-anchor="start" >a</text>
<text x="797.00" y="24.80" font-size="27.30" text-anchor="start" >b</text>
<text x="8.40" y="687.00" font-size="27.30" text-anchor="start" >c</text>
<text x="793.90" y="681.60" font-size="27.30" text-anchor="start" >d</text>
<text x="211.70" y="284.70" font-size="26.60" text-anchor="start" >Spreading</text>
<text x="381.20" y="330.10" font-size="26.60" text-anchor="start" >Retraction</text>
<text x="997.20" y="308.30" font-size="26.60" text-anchor="start" >Spreading</text>
<text x="1160.00" y="365.10" font-size="26.60" text-anchor="start" >Retraction</text>
<text x="183.90" y="963.70" font-size="26.60" text-anchor="start" >Spreading</text>
<text x="343.30" y="1024.70" font-size="26.60" text-anchor="start" >Retraction</text>
<text x="976.50" y="951.50" font-size="26.60" text-anchor="start" >Spreading</text>
<text x="1160.00" y="1011.00" font-size="26.60" text-anchor="start" >Retraction</text>
</svg>
</body></html>
